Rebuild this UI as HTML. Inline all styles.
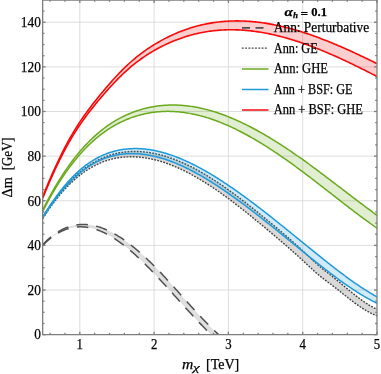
<!DOCTYPE html>
<html><head><meta charset="utf-8"><style>
html,body{margin:0;padding:0;background:#fff;}
body{width:381px;height:374px;position:relative;overflow:hidden;font-family:"Liberation Serif",serif;color:#000;}
svg{display:block;will-change:transform}
</style></head><body>
<svg width="381" height="374" viewBox="0 0 381 374" style="position:absolute;left:0;top:0">
<defs><clipPath id="c"><rect x="42.65" y="0" width="334.35" height="334.65"/></clipPath></defs>
<g stroke="#d4d4d4" stroke-width="0.8"><line x1="79.80" y1="0" x2="79.80" y2="334.65" /><line x1="154.10" y1="0" x2="154.10" y2="334.65" /><line x1="228.40" y1="0" x2="228.40" y2="334.65" /><line x1="302.70" y1="0" x2="302.70" y2="334.65" /><line x1="42.65" y1="290.02" x2="377.00" y2="290.02" /><line x1="42.65" y1="245.39" x2="377.00" y2="245.39" /><line x1="42.65" y1="200.75" x2="377.00" y2="200.75" /><line x1="42.65" y1="156.12" x2="377.00" y2="156.12" /><line x1="42.65" y1="111.49" x2="377.00" y2="111.49" /><line x1="42.65" y1="66.86" x2="377.00" y2="66.86" /><line x1="42.65" y1="22.23" x2="377.00" y2="22.23" /></g>
<g clip-path="url(#c)">
<polygon points="42.65,244.68 43.39,243.91 44.12,243.16 44.86,242.42 45.60,241.70 46.33,240.99 47.07,240.30 47.81,239.63 48.54,238.97 49.28,238.33 50.02,237.70 50.75,237.09 51.49,236.50 52.23,235.92 52.96,235.35 53.70,234.81 54.44,234.27 55.18,233.75 55.91,233.25 56.65,232.76 57.39,232.29 58.12,231.83 58.86,231.39 59.60,230.96 60.33,230.54 61.07,230.14 61.81,229.76 62.54,229.39 63.28,229.03 64.02,228.69 64.75,228.36 65.49,228.04 66.23,227.74 66.96,227.45 67.70,227.18 68.44,226.92 69.17,226.67 69.91,226.44 70.65,226.22 71.38,226.01 72.12,225.82 72.86,225.64 73.59,225.47 74.33,225.31 75.07,225.17 75.81,225.04 76.54,224.92 77.28,224.82 78.02,224.73 78.75,224.65 79.49,224.58 80.23,224.53 80.96,224.48 81.70,224.45 82.44,224.43 83.17,224.43 83.91,224.43 84.65,224.45 85.38,224.47 86.12,224.51 86.86,224.56 87.59,224.63 88.33,224.70 89.07,224.78 89.80,224.88 90.54,224.99 91.28,225.10 92.01,225.23 92.75,225.37 93.49,225.52 94.22,225.68 94.96,225.85 95.70,226.03 96.44,226.22 97.17,226.42 97.91,226.63 98.65,226.85 99.38,227.09 100.12,227.33 100.86,227.58 101.59,227.84 102.33,228.11 103.07,228.39 103.80,228.68 104.54,228.97 105.28,229.28 106.01,229.60 106.75,229.92 107.49,230.26 108.22,230.60 108.96,230.95 109.70,231.31 110.43,231.68 111.17,232.06 111.91,232.45 112.64,232.84 113.38,233.25 114.12,233.66 114.85,234.08 115.59,234.50 116.33,234.94 117.07,235.38 117.80,235.83 118.54,236.29 119.28,236.76 120.01,237.23 120.75,237.71 121.49,238.20 122.22,238.70 122.96,239.20 123.70,239.71 124.43,240.22 125.17,240.75 125.91,241.28 126.64,241.82 127.38,242.36 128.12,242.91 128.85,243.47 129.59,244.03 130.33,244.60 131.06,245.17 131.80,245.75 132.54,246.34 133.27,246.93 134.01,247.53 134.75,248.14 135.48,248.75 136.22,249.37 136.96,249.99 137.69,250.62 138.43,251.25 139.17,251.89 139.91,252.53 140.64,253.18 141.38,253.84 142.12,254.50 142.85,255.16 143.59,255.84 144.33,256.51 145.06,257.19 145.80,257.88 146.54,258.57 147.27,259.27 148.01,259.97 148.75,260.67 149.48,261.38 150.22,262.10 150.96,262.82 151.69,263.55 152.43,264.28 153.17,265.01 153.90,265.75 154.64,266.49 155.38,267.24 156.11,267.99 156.85,268.75 157.59,269.51 158.32,270.27 159.06,271.04 159.80,271.81 160.54,272.58 161.27,273.36 162.01,274.14 162.75,274.93 163.48,275.72 164.22,276.51 164.96,277.30 165.69,278.10 166.43,278.90 167.17,279.70 167.90,280.50 168.64,281.31 169.38,282.11 170.11,282.92 170.85,283.73 171.59,284.55 172.32,285.36 173.06,286.18 173.80,287.00 174.53,287.81 175.27,288.63 176.01,289.46 176.74,290.28 177.48,291.10 178.22,291.92 178.95,292.75 179.69,293.57 180.43,294.40 181.17,295.22 181.90,296.05 182.64,296.87 183.38,297.70 184.11,298.52 184.85,299.34 185.59,300.17 186.32,300.99 187.06,301.81 187.80,302.63 188.53,303.45 189.27,304.27 190.01,305.09 190.74,305.90 191.48,306.72 192.22,307.53 192.95,308.34 193.69,309.15 194.43,309.96 195.16,310.76 195.90,311.57 196.64,312.37 197.37,313.17 198.11,313.96 198.85,314.75 199.58,315.54 200.32,316.33 201.06,317.11 201.80,317.90 202.53,318.67 203.27,319.45 204.01,320.22 204.74,320.98 205.48,321.75 206.22,322.51 206.95,323.26 207.69,324.01 208.43,324.76 209.16,325.50 209.90,326.24 210.64,326.97 211.37,327.70 212.11,328.43 212.85,329.14 213.58,329.86 214.32,330.57 215.06,331.27 215.79,331.97 216.53,332.66 217.27,333.34 218.00,334.02 218.74,334.70 211.31,334.79 210.61,334.10 209.90,333.42 209.19,332.72 208.49,332.03 207.78,331.33 207.08,330.62 206.37,329.91 205.67,329.20 204.96,328.49 204.25,327.77 203.55,327.05 202.84,326.32 202.14,325.59 201.43,324.86 200.73,324.13 200.02,323.39 199.31,322.65 198.61,321.91 197.90,321.17 197.20,320.42 196.49,319.67 195.79,318.92 195.08,318.16 194.37,317.41 193.67,316.65 192.96,315.89 192.26,315.12 191.55,314.36 190.85,313.59 190.14,312.83 189.43,312.06 188.73,311.28 188.02,310.51 187.32,309.74 186.61,308.96 185.91,308.19 185.20,307.41 184.49,306.63 183.79,305.85 183.08,305.07 182.38,304.29 181.67,303.51 180.97,302.73 180.26,301.95 179.55,301.16 178.85,300.38 178.14,299.60 177.44,298.81 176.73,298.03 176.03,297.25 175.32,296.46 174.61,295.68 173.91,294.89 173.20,294.11 172.50,293.33 171.79,292.55 171.09,291.77 170.38,290.99 169.68,290.21 168.97,289.43 168.26,288.65 167.56,287.87 166.85,287.10 166.15,286.32 165.44,285.55 164.74,284.78 164.03,284.00 163.32,283.24 162.62,282.47 161.91,281.70 161.21,280.94 160.50,280.18 159.80,279.42 159.09,278.66 158.38,277.90 157.68,277.15 156.97,276.40 156.27,275.65 155.56,274.90 154.86,274.15 154.15,273.41 153.44,272.67 152.74,271.94 152.03,271.20 151.33,270.47 150.62,269.75 149.92,269.02 149.21,268.30 148.50,267.58 147.80,266.87 147.09,266.16 146.39,265.45 145.68,264.75 144.98,264.05 144.27,263.35 143.56,262.66 142.86,261.97 142.15,261.29 141.45,260.61 140.74,259.93 140.04,259.26 139.33,258.59 138.62,257.93 137.92,257.27 137.21,256.62 136.51,255.97 135.80,255.32 135.10,254.68 134.39,254.05 133.68,253.42 132.98,252.80 132.27,252.18 131.57,251.57 130.86,250.96 130.16,250.35 129.45,249.76 128.74,249.17 128.04,248.58 127.33,248.00 126.63,247.43 125.92,246.86 125.22,246.30 124.51,245.74 123.80,245.19 123.10,244.65 122.39,244.11 121.69,243.58 120.98,243.06 120.28,242.54 119.57,242.03 118.87,241.53 118.16,241.03 117.45,240.54 116.75,240.06 116.04,239.58 115.34,239.12 114.63,238.66 113.93,238.20 113.22,237.76 112.51,237.32 111.81,236.89 111.10,236.47 110.40,236.05 109.69,235.64 108.99,235.24 108.28,234.85 107.57,234.47 106.87,234.10 106.16,233.73 105.46,233.37 104.75,233.02 104.05,232.68 103.34,232.35 102.63,232.03 101.93,231.71 101.22,231.41 100.52,231.11 99.81,230.83 99.11,230.55 98.40,230.28 97.69,230.02 96.99,229.77 96.28,229.53 95.58,229.30 94.87,229.08 94.17,228.87 93.46,228.66 92.75,228.47 92.05,228.29 91.34,228.12 90.64,227.96 89.93,227.81 89.23,227.67 88.52,227.54 87.81,227.42 87.11,227.31 86.40,227.21 85.70,227.12 84.99,227.05 84.29,226.98 83.58,226.93 82.87,226.88 82.17,226.85 81.46,226.83 80.76,226.82 80.05,226.82 79.35,226.84 78.64,226.86 77.93,226.90 77.23,226.95 76.52,227.01 75.82,227.08 75.11,227.17 74.41,227.26 73.70,227.37 72.99,227.49 72.29,227.63 71.58,227.77 70.88,227.93 70.17,228.10 69.47,228.29 68.76,228.48 68.06,228.69 67.35,228.91 66.64,229.15 65.94,229.40 65.23,229.66 64.53,229.94 63.82,230.23 63.12,230.53 62.41,230.84 61.70,231.17 61.00,231.52 60.29,231.87 59.59,232.24 58.88,232.63 58.18,233.03 57.47,233.44 56.76,233.87 56.06,234.31 55.35,234.77 54.65,235.24 53.94,235.72 53.24,236.22 52.53,236.74 51.82,237.27 51.12,237.81 50.41,238.37 49.71,238.95 49.00,239.54 48.30,240.14 47.59,240.76 46.88,241.40 46.18,242.05 45.47,242.71 44.77,243.40 44.06,244.10 43.36,244.81 42.65,245.54" fill="#505050" fill-opacity="0.18" stroke="none"/>
<polyline points="42.65,244.68 43.39,243.91 44.12,243.16 44.86,242.42 45.60,241.70 46.33,240.99 47.07,240.30 47.81,239.63 48.54,238.97 49.28,238.33 50.02,237.70 50.75,237.09 51.49,236.50 52.23,235.92 52.96,235.35 53.70,234.81 54.44,234.27 55.18,233.75 55.91,233.25 56.65,232.76 57.39,232.29 58.12,231.83 58.86,231.39 59.60,230.96 60.33,230.54 61.07,230.14 61.81,229.76 62.54,229.39 63.28,229.03 64.02,228.69 64.75,228.36 65.49,228.04 66.23,227.74 66.96,227.45 67.70,227.18 68.44,226.92 69.17,226.67 69.91,226.44 70.65,226.22 71.38,226.01 72.12,225.82 72.86,225.64 73.59,225.47 74.33,225.31 75.07,225.17 75.81,225.04 76.54,224.92 77.28,224.82 78.02,224.73 78.75,224.65 79.49,224.58 80.23,224.53 80.96,224.48 81.70,224.45 82.44,224.43 83.17,224.43 83.91,224.43 84.65,224.45 85.38,224.47 86.12,224.51 86.86,224.56 87.59,224.63 88.33,224.70 89.07,224.78 89.80,224.88 90.54,224.99 91.28,225.10 92.01,225.23 92.75,225.37 93.49,225.52 94.22,225.68 94.96,225.85 95.70,226.03 96.44,226.22 97.17,226.42 97.91,226.63 98.65,226.85 99.38,227.09 100.12,227.33 100.86,227.58 101.59,227.84 102.33,228.11 103.07,228.39 103.80,228.68 104.54,228.97 105.28,229.28 106.01,229.60 106.75,229.92 107.49,230.26 108.22,230.60 108.96,230.95 109.70,231.31 110.43,231.68 111.17,232.06 111.91,232.45 112.64,232.84 113.38,233.25 114.12,233.66 114.85,234.08 115.59,234.50 116.33,234.94 117.07,235.38 117.80,235.83 118.54,236.29 119.28,236.76 120.01,237.23 120.75,237.71 121.49,238.20 122.22,238.70 122.96,239.20 123.70,239.71 124.43,240.22 125.17,240.75 125.91,241.28 126.64,241.82 127.38,242.36 128.12,242.91 128.85,243.47 129.59,244.03 130.33,244.60 131.06,245.17 131.80,245.75 132.54,246.34 133.27,246.93 134.01,247.53 134.75,248.14 135.48,248.75 136.22,249.37 136.96,249.99 137.69,250.62 138.43,251.25 139.17,251.89 139.91,252.53 140.64,253.18 141.38,253.84 142.12,254.50 142.85,255.16 143.59,255.84 144.33,256.51 145.06,257.19 145.80,257.88 146.54,258.57 147.27,259.27 148.01,259.97 148.75,260.67 149.48,261.38 150.22,262.10 150.96,262.82 151.69,263.55 152.43,264.28 153.17,265.01 153.90,265.75 154.64,266.49 155.38,267.24 156.11,267.99 156.85,268.75 157.59,269.51 158.32,270.27 159.06,271.04 159.80,271.81 160.54,272.58 161.27,273.36 162.01,274.14 162.75,274.93 163.48,275.72 164.22,276.51 164.96,277.30 165.69,278.10 166.43,278.90 167.17,279.70 167.90,280.50 168.64,281.31 169.38,282.11 170.11,282.92 170.85,283.73 171.59,284.55 172.32,285.36 173.06,286.18 173.80,287.00 174.53,287.81 175.27,288.63 176.01,289.46 176.74,290.28 177.48,291.10 178.22,291.92 178.95,292.75 179.69,293.57 180.43,294.40 181.17,295.22 181.90,296.05 182.64,296.87 183.38,297.70 184.11,298.52 184.85,299.34 185.59,300.17 186.32,300.99 187.06,301.81 187.80,302.63 188.53,303.45 189.27,304.27 190.01,305.09 190.74,305.90 191.48,306.72 192.22,307.53 192.95,308.34 193.69,309.15 194.43,309.96 195.16,310.76 195.90,311.57 196.64,312.37 197.37,313.17 198.11,313.96 198.85,314.75 199.58,315.54 200.32,316.33 201.06,317.11 201.80,317.90 202.53,318.67 203.27,319.45 204.01,320.22 204.74,320.98 205.48,321.75 206.22,322.51 206.95,323.26 207.69,324.01 208.43,324.76 209.16,325.50 209.90,326.24 210.64,326.97 211.37,327.70 212.11,328.43 212.85,329.14 213.58,329.86 214.32,330.57 215.06,331.27 215.79,331.97 216.53,332.66 217.27,333.34 218.00,334.02 218.74,334.70" fill="none" stroke="#505050" stroke-width="1.5" stroke-dasharray="11.55 8.36"/>
<polyline points="42.65,245.54 43.36,244.81 44.06,244.10 44.77,243.40 45.47,242.71 46.18,242.05 46.88,241.40 47.59,240.76 48.30,240.14 49.00,239.54 49.71,238.95 50.41,238.37 51.12,237.81 51.82,237.27 52.53,236.74 53.24,236.22 53.94,235.72 54.65,235.24 55.35,234.77 56.06,234.31 56.76,233.87 57.47,233.44 58.18,233.03 58.88,232.63 59.59,232.24 60.29,231.87 61.00,231.52 61.70,231.17 62.41,230.84 63.12,230.53 63.82,230.23 64.53,229.94 65.23,229.66 65.94,229.40 66.64,229.15 67.35,228.91 68.06,228.69 68.76,228.48 69.47,228.29 70.17,228.10 70.88,227.93 71.58,227.77 72.29,227.63 72.99,227.49 73.70,227.37 74.41,227.26 75.11,227.17 75.82,227.08 76.52,227.01 77.23,226.95 77.93,226.90 78.64,226.86 79.35,226.84 80.05,226.82 80.76,226.82 81.46,226.83 82.17,226.85 82.87,226.88 83.58,226.93 84.29,226.98 84.99,227.05 85.70,227.12 86.40,227.21 87.11,227.31 87.81,227.42 88.52,227.54 89.23,227.67 89.93,227.81 90.64,227.96 91.34,228.12 92.05,228.29 92.75,228.47 93.46,228.66 94.17,228.87 94.87,229.08 95.58,229.30 96.28,229.53 96.99,229.77 97.69,230.02 98.40,230.28 99.11,230.55 99.81,230.83 100.52,231.11 101.22,231.41 101.93,231.71 102.63,232.03 103.34,232.35 104.05,232.68 104.75,233.02 105.46,233.37 106.16,233.73 106.87,234.10 107.57,234.47 108.28,234.85 108.99,235.24 109.69,235.64 110.40,236.05 111.10,236.47 111.81,236.89 112.51,237.32 113.22,237.76 113.93,238.20 114.63,238.66 115.34,239.12 116.04,239.58 116.75,240.06 117.45,240.54 118.16,241.03 118.87,241.53 119.57,242.03 120.28,242.54 120.98,243.06 121.69,243.58 122.39,244.11 123.10,244.65 123.80,245.19 124.51,245.74 125.22,246.30 125.92,246.86 126.63,247.43 127.33,248.00 128.04,248.58 128.74,249.17 129.45,249.76 130.16,250.35 130.86,250.96 131.57,251.57 132.27,252.18 132.98,252.80 133.68,253.42 134.39,254.05 135.10,254.68 135.80,255.32 136.51,255.97 137.21,256.62 137.92,257.27 138.62,257.93 139.33,258.59 140.04,259.26 140.74,259.93 141.45,260.61 142.15,261.29 142.86,261.97 143.56,262.66 144.27,263.35 144.98,264.05 145.68,264.75 146.39,265.45 147.09,266.16 147.80,266.87 148.50,267.58 149.21,268.30 149.92,269.02 150.62,269.75 151.33,270.47 152.03,271.20 152.74,271.94 153.44,272.67 154.15,273.41 154.86,274.15 155.56,274.90 156.27,275.65 156.97,276.40 157.68,277.15 158.38,277.90 159.09,278.66 159.80,279.42 160.50,280.18 161.21,280.94 161.91,281.70 162.62,282.47 163.32,283.24 164.03,284.00 164.74,284.78 165.44,285.55 166.15,286.32 166.85,287.10 167.56,287.87 168.26,288.65 168.97,289.43 169.68,290.21 170.38,290.99 171.09,291.77 171.79,292.55 172.50,293.33 173.20,294.11 173.91,294.89 174.61,295.68 175.32,296.46 176.03,297.25 176.73,298.03 177.44,298.81 178.14,299.60 178.85,300.38 179.55,301.16 180.26,301.95 180.97,302.73 181.67,303.51 182.38,304.29 183.08,305.07 183.79,305.85 184.49,306.63 185.20,307.41 185.91,308.19 186.61,308.96 187.32,309.74 188.02,310.51 188.73,311.28 189.43,312.06 190.14,312.83 190.85,313.59 191.55,314.36 192.26,315.12 192.96,315.89 193.67,316.65 194.37,317.41 195.08,318.16 195.79,318.92 196.49,319.67 197.20,320.42 197.90,321.17 198.61,321.91 199.31,322.65 200.02,323.39 200.73,324.13 201.43,324.86 202.14,325.59 202.84,326.32 203.55,327.05 204.25,327.77 204.96,328.49 205.67,329.20 206.37,329.91 207.08,330.62 207.78,331.33 208.49,332.03 209.19,332.72 209.90,333.42 210.61,334.10 211.31,334.79" fill="none" stroke="#505050" stroke-width="1.5" stroke-dasharray="11.55 8.36"/>

<polygon points="42.65,217.47 44.05,215.20 45.45,212.98 46.85,210.80 48.25,208.68 49.64,206.59 51.04,204.56 52.44,202.57 53.84,200.62 55.24,198.72 56.64,196.87 58.04,195.05 59.44,193.28 60.84,191.56 62.24,189.88 63.63,188.23 65.03,186.64 66.43,185.08 67.83,183.56 69.23,182.09 70.63,180.65 72.03,179.26 73.43,177.90 74.83,176.59 76.22,175.31 77.62,174.07 79.02,172.87 80.42,171.71 81.82,170.58 83.22,169.49 84.62,168.44 86.02,167.42 87.42,166.44 88.82,165.50 90.21,164.59 91.61,163.71 93.01,162.87 94.41,162.06 95.81,161.28 97.21,160.54 98.61,159.83 100.01,159.15 101.41,158.50 102.81,157.89 104.20,157.30 105.60,156.75 107.00,156.22 108.40,155.73 109.80,155.26 111.20,154.83 112.60,154.42 114.00,154.04 115.40,153.69 116.79,153.36 118.19,153.06 119.59,152.79 120.99,152.55 122.39,152.33 123.79,152.13 125.19,151.96 126.59,151.82 127.99,151.70 129.39,151.60 130.78,151.53 132.18,151.48 133.58,151.45 134.98,151.44 136.38,151.46 137.78,151.49 139.18,151.55 140.58,151.63 141.98,151.73 143.37,151.85 144.77,151.99 146.17,152.15 147.57,152.33 148.97,152.53 150.37,152.75 151.77,152.99 153.17,153.25 154.57,153.53 155.97,153.83 157.36,154.14 158.76,154.47 160.16,154.82 161.56,155.19 162.96,155.58 164.36,155.98 165.76,156.40 167.16,156.84 168.56,157.30 169.95,157.77 171.35,158.26 172.75,158.76 174.15,159.28 175.55,159.82 176.95,160.37 178.35,160.94 179.75,161.53 181.15,162.12 182.55,162.74 183.94,163.37 185.34,164.01 186.74,164.67 188.14,165.34 189.54,166.02 190.94,166.72 192.34,167.44 193.74,168.16 195.14,168.90 196.53,169.66 197.93,170.42 199.33,171.20 200.73,171.99 202.13,172.79 203.53,173.61 204.93,174.43 206.33,175.27 207.73,176.12 209.13,176.98 210.52,177.85 211.92,178.74 213.32,179.63 214.72,180.53 216.12,181.45 217.52,182.37 218.92,183.30 220.32,184.25 221.72,185.20 223.12,186.16 224.51,187.13 225.91,188.12 227.31,189.10 228.71,190.10 230.11,191.11 231.51,192.12 232.91,193.14 234.31,194.17 235.71,195.21 237.10,196.25 238.50,197.31 239.90,198.36 241.30,199.43 242.70,200.50 244.10,201.58 245.50,202.66 246.90,203.75 248.30,204.85 249.70,205.95 251.09,207.05 252.49,208.16 253.89,209.28 255.29,210.40 256.69,211.52 258.09,212.65 259.49,213.78 260.89,214.91 262.29,216.05 263.68,217.19 265.08,218.34 266.48,219.49 267.88,220.64 269.28,221.79 270.68,222.95 272.08,224.10 273.48,225.26 274.88,226.43 276.28,227.59 277.67,228.76 279.07,229.94 280.47,231.12 281.87,232.30 283.27,233.49 284.67,234.69 286.07,235.89 287.47,237.09 288.87,238.31 290.26,239.53 291.66,240.76 293.06,242.00 294.46,243.24 295.86,244.50 297.26,245.76 298.66,247.03 300.06,248.31 301.46,249.61 302.86,250.91 304.25,252.22 305.65,253.55 307.05,254.87 308.45,256.19 309.85,257.51 311.25,258.83 312.65,260.13 314.05,261.42 315.45,262.69 316.84,263.95 318.24,265.17 319.64,266.37 321.04,267.54 322.44,268.68 323.84,269.79 325.24,270.88 326.64,271.97 328.04,273.05 329.44,274.13 330.83,275.23 332.23,276.34 333.63,277.47 335.03,278.60 336.43,279.75 337.83,280.91 339.23,282.07 340.63,283.23 342.03,284.40 343.43,285.57 344.82,286.74 346.22,287.91 347.62,289.07 349.02,290.23 350.42,291.38 351.82,292.51 353.22,293.64 354.62,294.76 356.02,295.86 357.41,296.94 358.81,298.00 360.21,299.05 361.61,300.07 363.01,301.07 364.41,302.04 365.81,302.99 367.21,303.90 368.61,304.79 370.01,305.64 371.40,306.46 372.80,307.24 374.20,307.99 375.60,308.69 377.00,309.36 377.00,315.86 375.60,315.31 374.20,314.72 372.80,314.09 371.40,313.41 370.01,312.70 368.61,311.95 367.21,311.17 365.81,310.35 364.41,309.50 363.01,308.62 361.61,307.71 360.21,306.78 358.81,305.82 357.41,304.84 356.02,303.84 354.62,302.82 353.22,301.78 351.82,300.73 350.42,299.66 349.02,298.59 347.62,297.50 346.22,296.40 344.82,295.30 343.43,294.19 342.03,293.08 340.63,291.97 339.23,290.86 337.83,289.75 336.43,288.65 335.03,287.55 333.63,286.46 332.23,285.38 330.83,284.31 329.44,283.26 328.04,282.21 326.64,281.17 325.24,280.13 323.84,279.07 322.44,277.99 321.04,276.88 319.64,275.75 318.24,274.57 316.84,273.37 315.45,272.15 314.05,270.90 312.65,269.63 311.25,268.35 309.85,267.05 308.45,265.75 307.05,264.44 305.65,263.13 304.25,261.82 302.86,260.52 301.46,259.23 300.06,257.94 298.66,256.67 297.26,255.40 295.86,254.14 294.46,252.89 293.06,251.65 291.66,250.41 290.26,249.18 288.87,247.96 287.47,246.74 286.07,245.53 284.67,244.33 283.27,243.12 281.87,241.93 280.47,240.73 279.07,239.55 277.67,238.36 276.28,237.18 274.88,236.00 273.48,234.82 272.08,233.65 270.68,232.48 269.28,231.31 267.88,230.14 266.48,228.97 265.08,227.80 263.68,226.63 262.29,225.47 260.89,224.31 259.49,223.15 258.09,222.00 256.69,220.85 255.29,219.70 253.89,218.55 252.49,217.41 251.09,216.27 249.70,215.14 248.30,214.01 246.90,212.89 245.50,211.77 244.10,210.65 242.70,209.54 241.30,208.44 239.90,207.34 238.50,206.25 237.10,205.17 235.71,204.09 234.31,203.01 232.91,201.95 231.51,200.89 230.11,199.84 228.71,198.80 227.31,197.76 225.91,196.73 224.51,195.71 223.12,194.70 221.72,193.70 220.32,192.71 218.92,191.72 217.52,190.75 216.12,189.78 214.72,188.82 213.32,187.88 211.92,186.94 210.52,186.02 209.13,185.10 207.73,184.20 206.33,183.30 204.93,182.42 203.53,181.55 202.13,180.69 200.73,179.84 199.33,179.00 197.93,178.18 196.53,177.36 195.14,176.56 193.74,175.78 192.34,175.00 190.94,174.24 189.54,173.49 188.14,172.76 186.74,172.04 185.34,171.33 183.94,170.64 182.55,169.96 181.15,169.30 179.75,168.65 178.35,168.01 176.95,167.39 175.55,166.79 174.15,166.20 172.75,165.63 171.35,165.07 169.95,164.53 168.56,164.01 167.16,163.50 165.76,163.01 164.36,162.54 162.96,162.08 161.56,161.64 160.16,161.22 158.76,160.82 157.36,160.43 155.97,160.06 154.57,159.71 153.17,159.38 151.77,159.07 150.37,158.77 148.97,158.50 147.57,158.25 146.17,158.01 144.77,157.79 143.37,157.60 141.98,157.42 140.58,157.27 139.18,157.13 137.78,157.02 136.38,156.93 134.98,156.85 133.58,156.80 132.18,156.78 130.78,156.77 129.39,156.79 127.99,156.83 126.59,156.89 125.19,156.98 123.79,157.09 122.39,157.23 120.99,157.39 119.59,157.58 118.19,157.79 116.79,158.03 115.40,158.30 114.00,158.59 112.60,158.92 111.20,159.26 109.80,159.64 108.40,160.05 107.00,160.48 105.60,160.95 104.20,161.44 102.81,161.97 101.41,162.52 100.01,163.11 98.61,163.73 97.21,164.38 95.81,165.06 94.41,165.78 93.01,166.52 91.61,167.30 90.21,168.12 88.82,168.97 87.42,169.85 86.02,170.77 84.62,171.72 83.22,172.71 81.82,173.74 80.42,174.80 79.02,175.90 77.62,177.04 76.22,178.21 74.83,179.42 73.43,180.67 72.03,181.96 70.63,183.29 69.23,184.66 67.83,186.07 66.43,187.52 65.03,189.01 63.63,190.54 62.24,192.11 60.84,193.72 59.44,195.38 58.04,197.08 56.64,198.82 55.24,200.61 53.84,202.44 52.44,204.31 51.04,206.23 49.64,208.19 48.25,210.20 46.85,212.26 45.45,214.36 44.05,216.51 42.65,218.70" fill="#404040" fill-opacity="0.2" stroke="none"/>
<polyline points="42.65,217.47 44.05,215.20 45.45,212.98 46.85,210.80 48.25,208.68 49.64,206.59 51.04,204.56 52.44,202.57 53.84,200.62 55.24,198.72 56.64,196.87 58.04,195.05 59.44,193.28 60.84,191.56 62.24,189.88 63.63,188.23 65.03,186.64 66.43,185.08 67.83,183.56 69.23,182.09 70.63,180.65 72.03,179.26 73.43,177.90 74.83,176.59 76.22,175.31 77.62,174.07 79.02,172.87 80.42,171.71 81.82,170.58 83.22,169.49 84.62,168.44 86.02,167.42 87.42,166.44 88.82,165.50 90.21,164.59 91.61,163.71 93.01,162.87 94.41,162.06 95.81,161.28 97.21,160.54 98.61,159.83 100.01,159.15 101.41,158.50 102.81,157.89 104.20,157.30 105.60,156.75 107.00,156.22 108.40,155.73 109.80,155.26 111.20,154.83 112.60,154.42 114.00,154.04 115.40,153.69 116.79,153.36 118.19,153.06 119.59,152.79 120.99,152.55 122.39,152.33 123.79,152.13 125.19,151.96 126.59,151.82 127.99,151.70 129.39,151.60 130.78,151.53 132.18,151.48 133.58,151.45 134.98,151.44 136.38,151.46 137.78,151.49 139.18,151.55 140.58,151.63 141.98,151.73 143.37,151.85 144.77,151.99 146.17,152.15 147.57,152.33 148.97,152.53 150.37,152.75 151.77,152.99 153.17,153.25 154.57,153.53 155.97,153.83 157.36,154.14 158.76,154.47 160.16,154.82 161.56,155.19 162.96,155.58 164.36,155.98 165.76,156.40 167.16,156.84 168.56,157.30 169.95,157.77 171.35,158.26 172.75,158.76 174.15,159.28 175.55,159.82 176.95,160.37 178.35,160.94 179.75,161.53 181.15,162.12 182.55,162.74 183.94,163.37 185.34,164.01 186.74,164.67 188.14,165.34 189.54,166.02 190.94,166.72 192.34,167.44 193.74,168.16 195.14,168.90 196.53,169.66 197.93,170.42 199.33,171.20 200.73,171.99 202.13,172.79 203.53,173.61 204.93,174.43 206.33,175.27 207.73,176.12 209.13,176.98 210.52,177.85 211.92,178.74 213.32,179.63 214.72,180.53 216.12,181.45 217.52,182.37 218.92,183.30 220.32,184.25 221.72,185.20 223.12,186.16 224.51,187.13 225.91,188.12 227.31,189.10 228.71,190.10 230.11,191.11 231.51,192.12 232.91,193.14 234.31,194.17 235.71,195.21 237.10,196.25 238.50,197.31 239.90,198.36 241.30,199.43 242.70,200.50 244.10,201.58 245.50,202.66 246.90,203.75 248.30,204.85 249.70,205.95 251.09,207.05 252.49,208.16 253.89,209.28 255.29,210.40 256.69,211.52 258.09,212.65 259.49,213.78 260.89,214.91 262.29,216.05 263.68,217.19 265.08,218.34 266.48,219.49 267.88,220.64 269.28,221.79 270.68,222.95 272.08,224.10 273.48,225.26 274.88,226.43 276.28,227.59 277.67,228.76 279.07,229.94 280.47,231.12 281.87,232.30 283.27,233.49 284.67,234.69 286.07,235.89 287.47,237.09 288.87,238.31 290.26,239.53 291.66,240.76 293.06,242.00 294.46,243.24 295.86,244.50 297.26,245.76 298.66,247.03 300.06,248.31 301.46,249.61 302.86,250.91 304.25,252.22 305.65,253.55 307.05,254.87 308.45,256.19 309.85,257.51 311.25,258.83 312.65,260.13 314.05,261.42 315.45,262.69 316.84,263.95 318.24,265.17 319.64,266.37 321.04,267.54 322.44,268.68 323.84,269.79 325.24,270.88 326.64,271.97 328.04,273.05 329.44,274.13 330.83,275.23 332.23,276.34 333.63,277.47 335.03,278.60 336.43,279.75 337.83,280.91 339.23,282.07 340.63,283.23 342.03,284.40 343.43,285.57 344.82,286.74 346.22,287.91 347.62,289.07 349.02,290.23 350.42,291.38 351.82,292.51 353.22,293.64 354.62,294.76 356.02,295.86 357.41,296.94 358.81,298.00 360.21,299.05 361.61,300.07 363.01,301.07 364.41,302.04 365.81,302.99 367.21,303.90 368.61,304.79 370.01,305.64 371.40,306.46 372.80,307.24 374.20,307.99 375.60,308.69 377.00,309.36" fill="none" stroke="#404040" stroke-width="1.4" stroke-dasharray="1.8 1.3"/>
<polyline points="42.65,218.70 44.05,216.51 45.45,214.36 46.85,212.26 48.25,210.20 49.64,208.19 51.04,206.23 52.44,204.31 53.84,202.44 55.24,200.61 56.64,198.82 58.04,197.08 59.44,195.38 60.84,193.72 62.24,192.11 63.63,190.54 65.03,189.01 66.43,187.52 67.83,186.07 69.23,184.66 70.63,183.29 72.03,181.96 73.43,180.67 74.83,179.42 76.22,178.21 77.62,177.04 79.02,175.90 80.42,174.80 81.82,173.74 83.22,172.71 84.62,171.72 86.02,170.77 87.42,169.85 88.82,168.97 90.21,168.12 91.61,167.30 93.01,166.52 94.41,165.78 95.81,165.06 97.21,164.38 98.61,163.73 100.01,163.11 101.41,162.52 102.81,161.97 104.20,161.44 105.60,160.95 107.00,160.48 108.40,160.05 109.80,159.64 111.20,159.26 112.60,158.92 114.00,158.59 115.40,158.30 116.79,158.03 118.19,157.79 119.59,157.58 120.99,157.39 122.39,157.23 123.79,157.09 125.19,156.98 126.59,156.89 127.99,156.83 129.39,156.79 130.78,156.77 132.18,156.78 133.58,156.80 134.98,156.85 136.38,156.93 137.78,157.02 139.18,157.13 140.58,157.27 141.98,157.42 143.37,157.60 144.77,157.79 146.17,158.01 147.57,158.25 148.97,158.50 150.37,158.77 151.77,159.07 153.17,159.38 154.57,159.71 155.97,160.06 157.36,160.43 158.76,160.82 160.16,161.22 161.56,161.64 162.96,162.08 164.36,162.54 165.76,163.01 167.16,163.50 168.56,164.01 169.95,164.53 171.35,165.07 172.75,165.63 174.15,166.20 175.55,166.79 176.95,167.39 178.35,168.01 179.75,168.65 181.15,169.30 182.55,169.96 183.94,170.64 185.34,171.33 186.74,172.04 188.14,172.76 189.54,173.49 190.94,174.24 192.34,175.00 193.74,175.78 195.14,176.56 196.53,177.36 197.93,178.18 199.33,179.00 200.73,179.84 202.13,180.69 203.53,181.55 204.93,182.42 206.33,183.30 207.73,184.20 209.13,185.10 210.52,186.02 211.92,186.94 213.32,187.88 214.72,188.82 216.12,189.78 217.52,190.75 218.92,191.72 220.32,192.71 221.72,193.70 223.12,194.70 224.51,195.71 225.91,196.73 227.31,197.76 228.71,198.80 230.11,199.84 231.51,200.89 232.91,201.95 234.31,203.01 235.71,204.09 237.10,205.17 238.50,206.25 239.90,207.34 241.30,208.44 242.70,209.54 244.10,210.65 245.50,211.77 246.90,212.89 248.30,214.01 249.70,215.14 251.09,216.27 252.49,217.41 253.89,218.55 255.29,219.70 256.69,220.85 258.09,222.00 259.49,223.15 260.89,224.31 262.29,225.47 263.68,226.63 265.08,227.80 266.48,228.97 267.88,230.14 269.28,231.31 270.68,232.48 272.08,233.65 273.48,234.82 274.88,236.00 276.28,237.18 277.67,238.36 279.07,239.55 280.47,240.73 281.87,241.93 283.27,243.12 284.67,244.33 286.07,245.53 287.47,246.74 288.87,247.96 290.26,249.18 291.66,250.41 293.06,251.65 294.46,252.89 295.86,254.14 297.26,255.40 298.66,256.67 300.06,257.94 301.46,259.23 302.86,260.52 304.25,261.82 305.65,263.13 307.05,264.44 308.45,265.75 309.85,267.05 311.25,268.35 312.65,269.63 314.05,270.90 315.45,272.15 316.84,273.37 318.24,274.57 319.64,275.75 321.04,276.88 322.44,277.99 323.84,279.07 325.24,280.13 326.64,281.17 328.04,282.21 329.44,283.26 330.83,284.31 332.23,285.38 333.63,286.46 335.03,287.55 336.43,288.65 337.83,289.75 339.23,290.86 340.63,291.97 342.03,293.08 343.43,294.19 344.82,295.30 346.22,296.40 347.62,297.50 349.02,298.59 350.42,299.66 351.82,300.73 353.22,301.78 354.62,302.82 356.02,303.84 357.41,304.84 358.81,305.82 360.21,306.78 361.61,307.71 363.01,308.62 364.41,309.50 365.81,310.35 367.21,311.17 368.61,311.95 370.01,312.70 371.40,313.41 372.80,314.09 374.20,314.72 375.60,315.31 377.00,315.86" fill="none" stroke="#404040" stroke-width="1.4" stroke-dasharray="1.8 1.3"/>

<polygon points="42.65,210.04 44.05,207.25 45.45,204.51 46.85,201.83 48.25,199.19 49.64,196.59 51.04,194.05 52.44,191.55 53.84,189.10 55.24,186.70 56.64,184.34 58.04,182.03 59.44,179.76 60.84,177.54 62.24,175.36 63.63,173.23 65.03,171.13 66.43,169.08 67.83,167.08 69.23,165.11 70.63,163.19 72.03,161.31 73.43,159.46 74.83,157.66 76.22,155.90 77.62,154.17 79.02,152.49 80.42,150.84 81.82,149.23 83.22,147.66 84.62,146.12 86.02,144.62 87.42,143.16 88.82,141.73 90.21,140.34 91.61,138.98 93.01,137.66 94.41,136.37 95.81,135.11 97.21,133.88 98.61,132.69 100.01,131.53 101.41,130.40 102.81,129.30 104.20,128.23 105.60,127.19 107.00,126.19 108.40,125.21 109.80,124.26 111.20,123.33 112.60,122.44 114.00,121.57 115.40,120.73 116.79,119.91 118.19,119.13 119.59,118.36 120.99,117.62 122.39,116.91 123.79,116.22 125.19,115.55 126.59,114.91 127.99,114.29 129.39,113.69 130.78,113.12 132.18,112.56 133.58,112.03 134.98,111.52 136.38,111.03 137.78,110.56 139.18,110.10 140.58,109.67 141.98,109.26 143.37,108.87 144.77,108.50 146.17,108.15 147.57,107.82 148.97,107.51 150.37,107.21 151.77,106.94 153.17,106.68 154.57,106.45 155.97,106.23 157.36,106.03 158.76,105.85 160.16,105.68 161.56,105.54 162.96,105.41 164.36,105.30 165.76,105.21 167.16,105.14 168.56,105.08 169.95,105.04 171.35,105.01 172.75,105.01 174.15,105.02 175.55,105.04 176.95,105.08 178.35,105.14 179.75,105.22 181.15,105.31 182.55,105.41 183.94,105.53 185.34,105.67 186.74,105.82 188.14,105.99 189.54,106.17 190.94,106.37 192.34,106.58 193.74,106.81 195.14,107.05 196.53,107.31 197.93,107.58 199.33,107.86 200.73,108.16 202.13,108.48 203.53,108.80 204.93,109.14 206.33,109.50 207.73,109.86 209.13,110.24 210.52,110.64 211.92,111.05 213.32,111.47 214.72,111.90 216.12,112.34 217.52,112.80 218.92,113.27 220.32,113.76 221.72,114.25 223.12,114.76 224.51,115.28 225.91,115.81 227.31,116.35 228.71,116.91 230.11,117.47 231.51,118.05 232.91,118.64 234.31,119.24 235.71,119.85 237.10,120.47 238.50,121.10 239.90,121.75 241.30,122.40 242.70,123.06 244.10,123.74 245.50,124.42 246.90,125.12 248.30,125.82 249.70,126.54 251.09,127.26 252.49,127.99 253.89,128.73 255.29,129.49 256.69,130.25 258.09,131.02 259.49,131.80 260.89,132.58 262.29,133.38 263.68,134.18 265.08,135.00 266.48,135.82 267.88,136.65 269.28,137.49 270.68,138.33 272.08,139.19 273.48,140.05 274.88,140.92 276.28,141.79 277.67,142.68 279.07,143.57 280.47,144.47 281.87,145.37 283.27,146.29 284.67,147.20 286.07,148.13 287.47,149.06 288.87,150.00 290.26,150.94 291.66,151.90 293.06,152.85 294.46,153.82 295.86,154.78 297.26,155.76 298.66,156.74 300.06,157.72 301.46,158.71 302.86,159.71 304.25,160.71 305.65,161.72 307.05,162.73 308.45,163.74 309.85,164.76 311.25,165.79 312.65,166.82 314.05,167.85 315.45,168.88 316.84,169.92 318.24,170.96 319.64,172.01 321.04,173.06 322.44,174.11 323.84,175.16 325.24,176.22 326.64,177.28 328.04,178.34 329.44,179.40 330.83,180.46 332.23,181.53 333.63,182.59 335.03,183.66 336.43,184.73 337.83,185.80 339.23,186.87 340.63,187.94 342.03,189.01 343.43,190.08 344.82,191.15 346.22,192.22 347.62,193.29 349.02,194.36 350.42,195.42 351.82,196.49 353.22,197.56 354.62,198.62 356.02,199.68 357.41,200.74 358.81,201.80 360.21,202.86 361.61,203.91 363.01,204.97 364.41,206.02 365.81,207.06 367.21,208.11 368.61,209.15 370.01,210.18 371.40,211.22 372.80,212.25 374.20,213.27 375.60,214.30 377.00,215.31 377.00,228.24 375.60,227.25 374.20,226.26 372.80,225.26 371.40,224.26 370.01,223.25 368.61,222.23 367.21,221.21 365.81,220.19 364.41,219.16 363.01,218.12 361.61,217.08 360.21,216.03 358.81,214.98 357.41,213.93 356.02,212.87 354.62,211.81 353.22,210.75 351.82,209.68 350.42,208.61 349.02,207.53 347.62,206.46 346.22,205.38 344.82,204.30 343.43,203.22 342.03,202.13 340.63,201.05 339.23,199.96 337.83,198.87 336.43,197.79 335.03,196.70 333.63,195.61 332.23,194.52 330.83,193.43 329.44,192.33 328.04,191.25 326.64,190.16 325.24,189.07 323.84,187.98 322.44,186.89 321.04,185.81 319.64,184.73 318.24,183.64 316.84,182.56 315.45,181.49 314.05,180.41 312.65,179.34 311.25,178.27 309.85,177.20 308.45,176.14 307.05,175.08 305.65,174.03 304.25,172.97 302.86,171.92 301.46,170.88 300.06,169.84 298.66,168.81 297.26,167.78 295.86,166.75 294.46,165.73 293.06,164.72 291.66,163.71 290.26,162.70 288.87,161.70 287.47,160.71 286.07,159.72 284.67,158.74 283.27,157.76 281.87,156.79 280.47,155.83 279.07,154.87 277.67,153.92 276.28,152.98 274.88,152.04 273.48,151.11 272.08,150.19 270.68,149.28 269.28,148.37 267.88,147.47 266.48,146.58 265.08,145.69 263.68,144.82 262.29,143.95 260.89,143.09 259.49,142.24 258.09,141.40 256.69,140.56 255.29,139.74 253.89,138.92 252.49,138.11 251.09,137.32 249.70,136.53 248.30,135.75 246.90,134.98 245.50,134.22 244.10,133.47 242.70,132.73 241.30,132.00 239.90,131.28 238.50,130.57 237.10,129.87 235.71,129.18 234.31,128.51 232.91,127.84 231.51,127.19 230.11,126.54 228.71,125.91 227.31,125.29 225.91,124.68 224.51,124.08 223.12,123.50 221.72,122.93 220.32,122.36 218.92,121.82 217.52,121.28 216.12,120.75 214.72,120.24 213.32,119.75 211.92,119.26 210.52,118.79 209.13,118.33 207.73,117.88 206.33,117.45 204.93,117.03 203.53,116.63 202.13,116.24 200.73,115.86 199.33,115.50 197.93,115.15 196.53,114.82 195.14,114.50 193.74,114.19 192.34,113.90 190.94,113.63 189.54,113.37 188.14,113.12 186.74,112.89 185.34,112.68 183.94,112.48 182.55,112.30 181.15,112.13 179.75,111.98 178.35,111.85 176.95,111.73 175.55,111.63 174.15,111.54 172.75,111.47 171.35,111.42 169.95,111.38 168.56,111.37 167.16,111.36 165.76,111.38 164.36,111.42 162.96,111.47 161.56,111.54 160.16,111.63 158.76,111.73 157.36,111.86 155.97,112.00 154.57,112.16 153.17,112.34 151.77,112.54 150.37,112.76 148.97,113.00 147.57,113.26 146.17,113.53 144.77,113.83 143.37,114.15 141.98,114.48 140.58,114.84 139.18,115.22 137.78,115.61 136.38,116.03 134.98,116.47 133.58,116.93 132.18,117.41 130.78,117.91 129.39,118.44 127.99,118.98 126.59,119.55 125.19,120.14 123.79,120.76 122.39,121.39 120.99,122.06 119.59,122.74 118.19,123.46 116.79,124.19 115.40,124.96 114.00,125.75 112.60,126.57 111.20,127.41 109.80,128.28 108.40,129.18 107.00,130.11 105.60,131.07 104.20,132.06 102.81,133.08 101.41,134.13 100.01,135.21 98.61,136.32 97.21,137.46 95.81,138.63 94.41,139.84 93.01,141.08 91.61,142.36 90.21,143.67 88.82,145.01 87.42,146.39 86.02,147.80 84.62,149.25 83.22,150.73 81.82,152.25 80.42,153.81 79.02,155.41 77.62,157.04 76.22,158.71 74.83,160.43 73.43,162.18 72.03,163.97 70.63,165.80 69.23,167.67 67.83,169.58 66.43,171.53 65.03,173.53 63.63,175.57 62.24,177.65 60.84,179.77 59.44,181.94 58.04,184.15 56.64,186.41 55.24,188.71 53.84,191.05 52.44,193.45 51.04,195.88 49.64,198.37 48.25,200.90 46.85,203.48 45.45,206.11 44.05,208.79 42.65,211.51" fill="#6aaa1e" fill-opacity="0.2" stroke="none"/>
<polyline points="42.65,210.04 44.05,207.25 45.45,204.51 46.85,201.83 48.25,199.19 49.64,196.59 51.04,194.05 52.44,191.55 53.84,189.10 55.24,186.70 56.64,184.34 58.04,182.03 59.44,179.76 60.84,177.54 62.24,175.36 63.63,173.23 65.03,171.13 66.43,169.08 67.83,167.08 69.23,165.11 70.63,163.19 72.03,161.31 73.43,159.46 74.83,157.66 76.22,155.90 77.62,154.17 79.02,152.49 80.42,150.84 81.82,149.23 83.22,147.66 84.62,146.12 86.02,144.62 87.42,143.16 88.82,141.73 90.21,140.34 91.61,138.98 93.01,137.66 94.41,136.37 95.81,135.11 97.21,133.88 98.61,132.69 100.01,131.53 101.41,130.40 102.81,129.30 104.20,128.23 105.60,127.19 107.00,126.19 108.40,125.21 109.80,124.26 111.20,123.33 112.60,122.44 114.00,121.57 115.40,120.73 116.79,119.91 118.19,119.13 119.59,118.36 120.99,117.62 122.39,116.91 123.79,116.22 125.19,115.55 126.59,114.91 127.99,114.29 129.39,113.69 130.78,113.12 132.18,112.56 133.58,112.03 134.98,111.52 136.38,111.03 137.78,110.56 139.18,110.10 140.58,109.67 141.98,109.26 143.37,108.87 144.77,108.50 146.17,108.15 147.57,107.82 148.97,107.51 150.37,107.21 151.77,106.94 153.17,106.68 154.57,106.45 155.97,106.23 157.36,106.03 158.76,105.85 160.16,105.68 161.56,105.54 162.96,105.41 164.36,105.30 165.76,105.21 167.16,105.14 168.56,105.08 169.95,105.04 171.35,105.01 172.75,105.01 174.15,105.02 175.55,105.04 176.95,105.08 178.35,105.14 179.75,105.22 181.15,105.31 182.55,105.41 183.94,105.53 185.34,105.67 186.74,105.82 188.14,105.99 189.54,106.17 190.94,106.37 192.34,106.58 193.74,106.81 195.14,107.05 196.53,107.31 197.93,107.58 199.33,107.86 200.73,108.16 202.13,108.48 203.53,108.80 204.93,109.14 206.33,109.50 207.73,109.86 209.13,110.24 210.52,110.64 211.92,111.05 213.32,111.47 214.72,111.90 216.12,112.34 217.52,112.80 218.92,113.27 220.32,113.76 221.72,114.25 223.12,114.76 224.51,115.28 225.91,115.81 227.31,116.35 228.71,116.91 230.11,117.47 231.51,118.05 232.91,118.64 234.31,119.24 235.71,119.85 237.10,120.47 238.50,121.10 239.90,121.75 241.30,122.40 242.70,123.06 244.10,123.74 245.50,124.42 246.90,125.12 248.30,125.82 249.70,126.54 251.09,127.26 252.49,127.99 253.89,128.73 255.29,129.49 256.69,130.25 258.09,131.02 259.49,131.80 260.89,132.58 262.29,133.38 263.68,134.18 265.08,135.00 266.48,135.82 267.88,136.65 269.28,137.49 270.68,138.33 272.08,139.19 273.48,140.05 274.88,140.92 276.28,141.79 277.67,142.68 279.07,143.57 280.47,144.47 281.87,145.37 283.27,146.29 284.67,147.20 286.07,148.13 287.47,149.06 288.87,150.00 290.26,150.94 291.66,151.90 293.06,152.85 294.46,153.82 295.86,154.78 297.26,155.76 298.66,156.74 300.06,157.72 301.46,158.71 302.86,159.71 304.25,160.71 305.65,161.72 307.05,162.73 308.45,163.74 309.85,164.76 311.25,165.79 312.65,166.82 314.05,167.85 315.45,168.88 316.84,169.92 318.24,170.96 319.64,172.01 321.04,173.06 322.44,174.11 323.84,175.16 325.24,176.22 326.64,177.28 328.04,178.34 329.44,179.40 330.83,180.46 332.23,181.53 333.63,182.59 335.03,183.66 336.43,184.73 337.83,185.80 339.23,186.87 340.63,187.94 342.03,189.01 343.43,190.08 344.82,191.15 346.22,192.22 347.62,193.29 349.02,194.36 350.42,195.42 351.82,196.49 353.22,197.56 354.62,198.62 356.02,199.68 357.41,200.74 358.81,201.80 360.21,202.86 361.61,203.91 363.01,204.97 364.41,206.02 365.81,207.06 367.21,208.11 368.61,209.15 370.01,210.18 371.40,211.22 372.80,212.25 374.20,213.27 375.60,214.30 377.00,215.31" fill="none" stroke="#6aaa1e" stroke-width="1.5"/>
<polyline points="42.65,211.51 44.05,208.79 45.45,206.11 46.85,203.48 48.25,200.90 49.64,198.37 51.04,195.88 52.44,193.45 53.84,191.05 55.24,188.71 56.64,186.41 58.04,184.15 59.44,181.94 60.84,179.77 62.24,177.65 63.63,175.57 65.03,173.53 66.43,171.53 67.83,169.58 69.23,167.67 70.63,165.80 72.03,163.97 73.43,162.18 74.83,160.43 76.22,158.71 77.62,157.04 79.02,155.41 80.42,153.81 81.82,152.25 83.22,150.73 84.62,149.25 86.02,147.80 87.42,146.39 88.82,145.01 90.21,143.67 91.61,142.36 93.01,141.08 94.41,139.84 95.81,138.63 97.21,137.46 98.61,136.32 100.01,135.21 101.41,134.13 102.81,133.08 104.20,132.06 105.60,131.07 107.00,130.11 108.40,129.18 109.80,128.28 111.20,127.41 112.60,126.57 114.00,125.75 115.40,124.96 116.79,124.19 118.19,123.46 119.59,122.74 120.99,122.06 122.39,121.39 123.79,120.76 125.19,120.14 126.59,119.55 127.99,118.98 129.39,118.44 130.78,117.91 132.18,117.41 133.58,116.93 134.98,116.47 136.38,116.03 137.78,115.61 139.18,115.22 140.58,114.84 141.98,114.48 143.37,114.15 144.77,113.83 146.17,113.53 147.57,113.26 148.97,113.00 150.37,112.76 151.77,112.54 153.17,112.34 154.57,112.16 155.97,112.00 157.36,111.86 158.76,111.73 160.16,111.63 161.56,111.54 162.96,111.47 164.36,111.42 165.76,111.38 167.16,111.36 168.56,111.37 169.95,111.38 171.35,111.42 172.75,111.47 174.15,111.54 175.55,111.63 176.95,111.73 178.35,111.85 179.75,111.98 181.15,112.13 182.55,112.30 183.94,112.48 185.34,112.68 186.74,112.89 188.14,113.12 189.54,113.37 190.94,113.63 192.34,113.90 193.74,114.19 195.14,114.50 196.53,114.82 197.93,115.15 199.33,115.50 200.73,115.86 202.13,116.24 203.53,116.63 204.93,117.03 206.33,117.45 207.73,117.88 209.13,118.33 210.52,118.79 211.92,119.26 213.32,119.75 214.72,120.24 216.12,120.75 217.52,121.28 218.92,121.82 220.32,122.36 221.72,122.93 223.12,123.50 224.51,124.08 225.91,124.68 227.31,125.29 228.71,125.91 230.11,126.54 231.51,127.19 232.91,127.84 234.31,128.51 235.71,129.18 237.10,129.87 238.50,130.57 239.90,131.28 241.30,132.00 242.70,132.73 244.10,133.47 245.50,134.22 246.90,134.98 248.30,135.75 249.70,136.53 251.09,137.32 252.49,138.11 253.89,138.92 255.29,139.74 256.69,140.56 258.09,141.40 259.49,142.24 260.89,143.09 262.29,143.95 263.68,144.82 265.08,145.69 266.48,146.58 267.88,147.47 269.28,148.37 270.68,149.28 272.08,150.19 273.48,151.11 274.88,152.04 276.28,152.98 277.67,153.92 279.07,154.87 280.47,155.83 281.87,156.79 283.27,157.76 284.67,158.74 286.07,159.72 287.47,160.71 288.87,161.70 290.26,162.70 291.66,163.71 293.06,164.72 294.46,165.73 295.86,166.75 297.26,167.78 298.66,168.81 300.06,169.84 301.46,170.88 302.86,171.92 304.25,172.97 305.65,174.03 307.05,175.08 308.45,176.14 309.85,177.20 311.25,178.27 312.65,179.34 314.05,180.41 315.45,181.49 316.84,182.56 318.24,183.64 319.64,184.73 321.04,185.81 322.44,186.89 323.84,187.98 325.24,189.07 326.64,190.16 328.04,191.25 329.44,192.33 330.83,193.43 332.23,194.52 333.63,195.61 335.03,196.70 336.43,197.79 337.83,198.87 339.23,199.96 340.63,201.05 342.03,202.13 343.43,203.22 344.82,204.30 346.22,205.38 347.62,206.46 349.02,207.53 350.42,208.61 351.82,209.68 353.22,210.75 354.62,211.81 356.02,212.87 357.41,213.93 358.81,214.98 360.21,216.03 361.61,217.08 363.01,218.12 364.41,219.16 365.81,220.19 367.21,221.21 368.61,222.23 370.01,223.25 371.40,224.26 372.80,225.26 374.20,226.26 375.60,227.25 377.00,228.24" fill="none" stroke="#6aaa1e" stroke-width="1.5"/>

<polygon points="42.65,216.91 44.05,214.66 45.45,212.44 46.85,210.26 48.25,208.11 49.64,206.00 51.04,203.92 52.44,201.88 53.84,199.88 55.24,197.92 56.64,196.00 58.04,194.11 59.44,192.27 60.84,190.47 62.24,188.70 63.63,186.98 65.03,185.30 66.43,183.67 67.83,182.07 69.23,180.52 70.63,179.01 72.03,177.55 73.43,176.12 74.83,174.74 76.22,173.39 77.62,172.09 79.02,170.83 80.42,169.61 81.82,168.44 83.22,167.30 84.62,166.20 86.02,165.14 87.42,164.12 88.82,163.14 90.21,162.19 91.61,161.28 93.01,160.41 94.41,159.57 95.81,158.77 97.21,158.01 98.61,157.27 100.01,156.58 101.41,155.91 102.81,155.28 104.20,154.68 105.60,154.11 107.00,153.57 108.40,153.06 109.80,152.58 111.20,152.13 112.60,151.71 114.00,151.32 115.40,150.96 116.79,150.62 118.19,150.31 119.59,150.03 120.99,149.78 122.39,149.55 123.79,149.34 125.19,149.16 126.59,149.01 127.99,148.88 129.39,148.77 130.78,148.69 132.18,148.63 133.58,148.60 134.98,148.58 136.38,148.59 137.78,148.62 139.18,148.67 140.58,148.74 141.98,148.83 143.37,148.95 144.77,149.08 146.17,149.23 147.57,149.40 148.97,149.60 150.37,149.81 151.77,150.04 153.17,150.29 154.57,150.56 155.97,150.84 157.36,151.15 158.76,151.47 160.16,151.81 161.56,152.17 162.96,152.54 164.36,152.94 165.76,153.34 167.16,153.77 168.56,154.21 169.95,154.67 171.35,155.14 172.75,155.63 174.15,156.14 175.55,156.66 176.95,157.20 178.35,157.75 179.75,158.31 181.15,158.89 182.55,159.48 183.94,160.09 185.34,160.71 186.74,161.34 188.14,161.99 189.54,162.65 190.94,163.32 192.34,164.01 193.74,164.71 195.14,165.42 196.53,166.14 197.93,166.87 199.33,167.62 200.73,168.37 202.13,169.14 203.53,169.92 204.93,170.71 206.33,171.50 207.73,172.31 209.13,173.13 210.52,173.96 211.92,174.80 213.32,175.65 214.72,176.51 216.12,177.37 217.52,178.25 218.92,179.13 220.32,180.03 221.72,180.93 223.12,181.84 224.51,182.76 225.91,183.69 227.31,184.62 228.71,185.56 230.11,186.51 231.51,187.47 232.91,188.43 234.31,189.40 235.71,190.38 237.10,191.37 238.50,192.36 239.90,193.36 241.30,194.36 242.70,195.37 244.10,196.39 245.50,197.41 246.90,198.44 248.30,199.48 249.70,200.51 251.09,201.56 252.49,202.61 253.89,203.66 255.29,204.72 256.69,205.79 258.09,206.86 259.49,207.93 260.89,209.01 262.29,210.09 263.68,211.18 265.08,212.27 266.48,213.36 267.88,214.46 269.28,215.56 270.68,216.66 272.08,217.77 273.48,218.88 274.88,219.99 276.28,221.11 277.67,222.22 279.07,223.34 280.47,224.47 281.87,225.59 283.27,226.72 284.67,227.85 286.07,228.98 287.47,230.11 288.87,231.24 290.26,232.37 291.66,233.51 293.06,234.64 294.46,235.78 295.86,236.92 297.26,238.06 298.66,239.20 300.06,240.33 301.46,241.47 302.86,242.61 304.25,243.75 305.65,244.89 307.05,246.02 308.45,247.16 309.85,248.30 311.25,249.43 312.65,250.56 314.05,251.70 315.45,252.83 316.84,253.95 318.24,255.08 319.64,256.20 321.04,257.32 322.44,258.44 323.84,259.56 325.24,260.67 326.64,261.78 328.04,262.88 329.44,263.98 330.83,265.08 332.23,266.17 333.63,267.26 335.03,268.34 336.43,269.42 337.83,270.49 339.23,271.56 340.63,272.62 342.03,273.67 343.43,274.71 344.82,275.75 346.22,276.78 347.62,277.81 349.02,278.82 350.42,279.83 351.82,280.82 353.22,281.81 354.62,282.79 356.02,283.76 357.41,284.72 358.81,285.66 360.21,286.60 361.61,287.52 363.01,288.44 364.41,289.34 365.81,290.23 367.21,291.11 368.61,291.97 370.01,292.82 371.40,293.66 372.80,294.48 374.20,295.29 375.60,296.09 377.00,296.87 377.00,303.31 375.60,302.63 374.20,301.92 372.80,301.20 371.40,300.46 370.01,299.71 368.61,298.94 367.21,298.16 365.81,297.36 364.41,296.54 363.01,295.72 361.61,294.87 360.21,294.02 358.81,293.15 357.41,292.27 356.02,291.38 354.62,290.47 353.22,289.55 351.82,288.62 350.42,287.68 349.02,286.73 347.62,285.77 346.22,284.80 344.82,283.82 343.43,282.83 342.03,281.83 340.63,280.82 339.23,279.80 337.83,278.78 336.43,277.75 335.03,276.71 333.63,275.66 332.23,274.61 330.83,273.55 329.44,272.48 328.04,271.41 326.64,270.34 325.24,269.25 323.84,268.17 322.44,267.08 321.04,265.98 319.64,264.88 318.24,263.78 316.84,262.68 315.45,261.57 314.05,260.45 312.65,259.34 311.25,258.22 309.85,257.10 308.45,255.97 307.05,254.85 305.65,253.72 304.25,252.59 302.86,251.46 301.46,250.33 300.06,249.19 298.66,248.06 297.26,246.92 295.86,245.79 294.46,244.65 293.06,243.51 291.66,242.37 290.26,241.24 288.87,240.10 287.47,238.96 286.07,237.83 284.67,236.69 283.27,235.56 281.87,234.42 280.47,233.29 279.07,232.16 277.67,231.02 276.28,229.90 274.88,228.77 273.48,227.64 272.08,226.52 270.68,225.40 269.28,224.28 267.88,223.16 266.48,222.05 265.08,220.94 263.68,219.83 262.29,218.73 260.89,217.62 259.49,216.53 258.09,215.43 256.69,214.34 255.29,213.25 253.89,212.17 252.49,211.09 251.09,210.02 249.70,208.95 248.30,207.89 246.90,206.83 245.50,205.77 244.10,204.72 242.70,203.68 241.30,202.64 239.90,201.61 238.50,200.58 237.10,199.56 235.71,198.54 234.31,197.53 232.91,196.53 231.51,195.54 230.11,194.55 228.71,193.56 227.31,192.59 225.91,191.62 224.51,190.66 223.12,189.71 221.72,188.76 220.32,187.83 218.92,186.90 217.52,185.98 216.12,185.07 214.72,184.16 213.32,183.27 211.92,182.38 210.52,181.51 209.13,180.64 207.73,179.78 206.33,178.94 204.93,178.10 203.53,177.27 202.13,176.46 200.73,175.65 199.33,174.85 197.93,174.07 196.53,173.29 195.14,172.53 193.74,171.78 192.34,171.04 190.94,170.32 189.54,169.60 188.14,168.90 186.74,168.21 185.34,167.53 183.94,166.87 182.55,166.22 181.15,165.58 179.75,164.96 178.35,164.35 176.95,163.76 175.55,163.18 174.15,162.61 172.75,162.06 171.35,161.53 169.95,161.01 168.56,160.50 167.16,160.02 165.76,159.54 164.36,159.09 162.96,158.65 161.56,158.23 160.16,157.82 158.76,157.44 157.36,157.07 155.97,156.71 154.57,156.38 153.17,156.06 151.77,155.76 150.37,155.49 148.97,155.23 147.57,154.98 146.17,154.76 144.77,154.56 143.37,154.38 141.98,154.22 140.58,154.07 139.18,153.95 137.78,153.85 136.38,153.77 134.98,153.71 133.58,153.67 132.18,153.66 130.78,153.67 129.39,153.70 127.99,153.75 126.59,153.83 125.19,153.93 123.79,154.05 122.39,154.20 120.99,154.38 119.59,154.58 118.19,154.81 116.79,155.06 115.40,155.34 114.00,155.65 112.60,155.99 111.20,156.35 109.80,156.74 108.40,157.17 107.00,157.62 105.60,158.10 104.20,158.61 102.81,159.15 101.41,159.73 100.01,160.33 98.61,160.97 97.21,161.65 95.81,162.35 94.41,163.09 93.01,163.87 91.61,164.68 90.21,165.53 88.82,166.41 87.42,167.33 86.02,168.29 84.62,169.29 83.22,170.32 81.82,171.40 80.42,172.51 79.02,173.66 77.62,174.86 76.22,176.09 74.83,177.37 73.43,178.69 72.03,180.04 70.63,181.44 69.23,182.88 67.83,184.37 66.43,185.89 65.03,187.46 63.63,189.06 62.24,190.71 60.84,192.40 59.44,194.13 58.04,195.90 56.64,197.71 55.24,199.56 53.84,201.45 52.44,203.37 51.04,205.33 49.64,207.33 48.25,209.36 46.85,211.43 45.45,213.53 44.05,215.67 42.65,217.84" fill="#1f9ad8" fill-opacity="0.2" stroke="none"/>
<polyline points="42.65,216.91 44.05,214.66 45.45,212.44 46.85,210.26 48.25,208.11 49.64,206.00 51.04,203.92 52.44,201.88 53.84,199.88 55.24,197.92 56.64,196.00 58.04,194.11 59.44,192.27 60.84,190.47 62.24,188.70 63.63,186.98 65.03,185.30 66.43,183.67 67.83,182.07 69.23,180.52 70.63,179.01 72.03,177.55 73.43,176.12 74.83,174.74 76.22,173.39 77.62,172.09 79.02,170.83 80.42,169.61 81.82,168.44 83.22,167.30 84.62,166.20 86.02,165.14 87.42,164.12 88.82,163.14 90.21,162.19 91.61,161.28 93.01,160.41 94.41,159.57 95.81,158.77 97.21,158.01 98.61,157.27 100.01,156.58 101.41,155.91 102.81,155.28 104.20,154.68 105.60,154.11 107.00,153.57 108.40,153.06 109.80,152.58 111.20,152.13 112.60,151.71 114.00,151.32 115.40,150.96 116.79,150.62 118.19,150.31 119.59,150.03 120.99,149.78 122.39,149.55 123.79,149.34 125.19,149.16 126.59,149.01 127.99,148.88 129.39,148.77 130.78,148.69 132.18,148.63 133.58,148.60 134.98,148.58 136.38,148.59 137.78,148.62 139.18,148.67 140.58,148.74 141.98,148.83 143.37,148.95 144.77,149.08 146.17,149.23 147.57,149.40 148.97,149.60 150.37,149.81 151.77,150.04 153.17,150.29 154.57,150.56 155.97,150.84 157.36,151.15 158.76,151.47 160.16,151.81 161.56,152.17 162.96,152.54 164.36,152.94 165.76,153.34 167.16,153.77 168.56,154.21 169.95,154.67 171.35,155.14 172.75,155.63 174.15,156.14 175.55,156.66 176.95,157.20 178.35,157.75 179.75,158.31 181.15,158.89 182.55,159.48 183.94,160.09 185.34,160.71 186.74,161.34 188.14,161.99 189.54,162.65 190.94,163.32 192.34,164.01 193.74,164.71 195.14,165.42 196.53,166.14 197.93,166.87 199.33,167.62 200.73,168.37 202.13,169.14 203.53,169.92 204.93,170.71 206.33,171.50 207.73,172.31 209.13,173.13 210.52,173.96 211.92,174.80 213.32,175.65 214.72,176.51 216.12,177.37 217.52,178.25 218.92,179.13 220.32,180.03 221.72,180.93 223.12,181.84 224.51,182.76 225.91,183.69 227.31,184.62 228.71,185.56 230.11,186.51 231.51,187.47 232.91,188.43 234.31,189.40 235.71,190.38 237.10,191.37 238.50,192.36 239.90,193.36 241.30,194.36 242.70,195.37 244.10,196.39 245.50,197.41 246.90,198.44 248.30,199.48 249.70,200.51 251.09,201.56 252.49,202.61 253.89,203.66 255.29,204.72 256.69,205.79 258.09,206.86 259.49,207.93 260.89,209.01 262.29,210.09 263.68,211.18 265.08,212.27 266.48,213.36 267.88,214.46 269.28,215.56 270.68,216.66 272.08,217.77 273.48,218.88 274.88,219.99 276.28,221.11 277.67,222.22 279.07,223.34 280.47,224.47 281.87,225.59 283.27,226.72 284.67,227.85 286.07,228.98 287.47,230.11 288.87,231.24 290.26,232.37 291.66,233.51 293.06,234.64 294.46,235.78 295.86,236.92 297.26,238.06 298.66,239.20 300.06,240.33 301.46,241.47 302.86,242.61 304.25,243.75 305.65,244.89 307.05,246.02 308.45,247.16 309.85,248.30 311.25,249.43 312.65,250.56 314.05,251.70 315.45,252.83 316.84,253.95 318.24,255.08 319.64,256.20 321.04,257.32 322.44,258.44 323.84,259.56 325.24,260.67 326.64,261.78 328.04,262.88 329.44,263.98 330.83,265.08 332.23,266.17 333.63,267.26 335.03,268.34 336.43,269.42 337.83,270.49 339.23,271.56 340.63,272.62 342.03,273.67 343.43,274.71 344.82,275.75 346.22,276.78 347.62,277.81 349.02,278.82 350.42,279.83 351.82,280.82 353.22,281.81 354.62,282.79 356.02,283.76 357.41,284.72 358.81,285.66 360.21,286.60 361.61,287.52 363.01,288.44 364.41,289.34 365.81,290.23 367.21,291.11 368.61,291.97 370.01,292.82 371.40,293.66 372.80,294.48 374.20,295.29 375.60,296.09 377.00,296.87" fill="none" stroke="#1f9ad8" stroke-width="1.5"/>
<polyline points="42.65,217.84 44.05,215.67 45.45,213.53 46.85,211.43 48.25,209.36 49.64,207.33 51.04,205.33 52.44,203.37 53.84,201.45 55.24,199.56 56.64,197.71 58.04,195.90 59.44,194.13 60.84,192.40 62.24,190.71 63.63,189.06 65.03,187.46 66.43,185.89 67.83,184.37 69.23,182.88 70.63,181.44 72.03,180.04 73.43,178.69 74.83,177.37 76.22,176.09 77.62,174.86 79.02,173.66 80.42,172.51 81.82,171.40 83.22,170.32 84.62,169.29 86.02,168.29 87.42,167.33 88.82,166.41 90.21,165.53 91.61,164.68 93.01,163.87 94.41,163.09 95.81,162.35 97.21,161.65 98.61,160.97 100.01,160.33 101.41,159.73 102.81,159.15 104.20,158.61 105.60,158.10 107.00,157.62 108.40,157.17 109.80,156.74 111.20,156.35 112.60,155.99 114.00,155.65 115.40,155.34 116.79,155.06 118.19,154.81 119.59,154.58 120.99,154.38 122.39,154.20 123.79,154.05 125.19,153.93 126.59,153.83 127.99,153.75 129.39,153.70 130.78,153.67 132.18,153.66 133.58,153.67 134.98,153.71 136.38,153.77 137.78,153.85 139.18,153.95 140.58,154.07 141.98,154.22 143.37,154.38 144.77,154.56 146.17,154.76 147.57,154.98 148.97,155.23 150.37,155.49 151.77,155.76 153.17,156.06 154.57,156.38 155.97,156.71 157.36,157.07 158.76,157.44 160.16,157.82 161.56,158.23 162.96,158.65 164.36,159.09 165.76,159.54 167.16,160.02 168.56,160.50 169.95,161.01 171.35,161.53 172.75,162.06 174.15,162.61 175.55,163.18 176.95,163.76 178.35,164.35 179.75,164.96 181.15,165.58 182.55,166.22 183.94,166.87 185.34,167.53 186.74,168.21 188.14,168.90 189.54,169.60 190.94,170.32 192.34,171.04 193.74,171.78 195.14,172.53 196.53,173.29 197.93,174.07 199.33,174.85 200.73,175.65 202.13,176.46 203.53,177.27 204.93,178.10 206.33,178.94 207.73,179.78 209.13,180.64 210.52,181.51 211.92,182.38 213.32,183.27 214.72,184.16 216.12,185.07 217.52,185.98 218.92,186.90 220.32,187.83 221.72,188.76 223.12,189.71 224.51,190.66 225.91,191.62 227.31,192.59 228.71,193.56 230.11,194.55 231.51,195.54 232.91,196.53 234.31,197.53 235.71,198.54 237.10,199.56 238.50,200.58 239.90,201.61 241.30,202.64 242.70,203.68 244.10,204.72 245.50,205.77 246.90,206.83 248.30,207.89 249.70,208.95 251.09,210.02 252.49,211.09 253.89,212.17 255.29,213.25 256.69,214.34 258.09,215.43 259.49,216.53 260.89,217.62 262.29,218.73 263.68,219.83 265.08,220.94 266.48,222.05 267.88,223.16 269.28,224.28 270.68,225.40 272.08,226.52 273.48,227.64 274.88,228.77 276.28,229.90 277.67,231.02 279.07,232.16 280.47,233.29 281.87,234.42 283.27,235.56 284.67,236.69 286.07,237.83 287.47,238.96 288.87,240.10 290.26,241.24 291.66,242.37 293.06,243.51 294.46,244.65 295.86,245.79 297.26,246.92 298.66,248.06 300.06,249.19 301.46,250.33 302.86,251.46 304.25,252.59 305.65,253.72 307.05,254.85 308.45,255.97 309.85,257.10 311.25,258.22 312.65,259.34 314.05,260.45 315.45,261.57 316.84,262.68 318.24,263.78 319.64,264.88 321.04,265.98 322.44,267.08 323.84,268.17 325.24,269.25 326.64,270.34 328.04,271.41 329.44,272.48 330.83,273.55 332.23,274.61 333.63,275.66 335.03,276.71 336.43,277.75 337.83,278.78 339.23,279.80 340.63,280.82 342.03,281.83 343.43,282.83 344.82,283.82 346.22,284.80 347.62,285.77 349.02,286.73 350.42,287.68 351.82,288.62 353.22,289.55 354.62,290.47 356.02,291.38 357.41,292.27 358.81,293.15 360.21,294.02 361.61,294.87 363.01,295.72 364.41,296.54 365.81,297.36 367.21,298.16 368.61,298.94 370.01,299.71 371.40,300.46 372.80,301.20 374.20,301.92 375.60,302.63 377.00,303.31" fill="none" stroke="#1f9ad8" stroke-width="1.5"/>

<polygon points="42.65,196.73 44.05,193.26 45.45,189.83 46.85,186.45 48.25,183.13 49.64,179.85 51.04,176.62 52.44,173.44 53.84,170.32 55.24,167.24 56.64,164.22 58.04,161.25 59.44,158.34 60.84,155.48 62.24,152.67 63.63,149.92 65.03,147.22 66.43,144.58 67.83,142.00 69.23,139.47 70.63,137.00 72.03,134.59 73.43,132.23 74.83,129.92 76.22,127.67 77.62,125.46 79.02,123.30 80.42,121.18 81.82,119.11 83.22,117.07 84.62,115.07 86.02,113.10 87.42,111.17 88.82,109.27 90.21,107.40 91.61,105.56 93.01,103.75 94.41,101.96 95.81,100.19 97.21,98.44 98.61,96.72 100.01,95.01 101.41,93.32 102.81,91.64 104.20,89.97 105.60,88.32 107.00,86.68 108.40,85.06 109.80,83.46 111.20,81.87 112.60,80.30 114.00,78.76 115.40,77.23 116.79,75.72 118.19,74.23 119.59,72.77 120.99,71.33 122.39,69.91 123.79,68.52 125.19,67.16 126.59,65.82 127.99,64.51 129.39,63.22 130.78,61.97 132.18,60.74 133.58,59.54 134.98,58.37 136.38,57.23 137.78,56.11 139.18,55.01 140.58,53.94 141.98,52.90 143.37,51.87 144.77,50.87 146.17,49.89 147.57,48.94 148.97,48.00 150.37,47.08 151.77,46.18 153.17,45.30 154.57,44.44 155.97,43.59 157.36,42.77 158.76,41.95 160.16,41.16 161.56,40.38 162.96,39.62 164.36,38.88 165.76,38.15 167.16,37.44 168.56,36.75 169.95,36.07 171.35,35.41 172.75,34.76 174.15,34.13 175.55,33.52 176.95,32.92 178.35,32.34 179.75,31.78 181.15,31.23 182.55,30.69 183.94,30.17 185.34,29.67 186.74,29.18 188.14,28.71 189.54,28.25 190.94,27.80 192.34,27.37 193.74,26.96 195.14,26.56 196.53,26.17 197.93,25.80 199.33,25.45 200.73,25.11 202.13,24.78 203.53,24.46 204.93,24.17 206.33,23.88 207.73,23.61 209.13,23.35 210.52,23.10 211.92,22.87 213.32,22.66 214.72,22.45 216.12,22.26 217.52,22.08 218.92,21.92 220.32,21.76 221.72,21.63 223.12,21.50 224.51,21.38 225.91,21.28 227.31,21.19 228.71,21.12 230.11,21.05 231.51,21.00 232.91,20.96 234.31,20.93 235.71,20.92 237.10,20.91 238.50,20.92 239.90,20.94 241.30,20.97 242.70,21.01 244.10,21.07 245.50,21.13 246.90,21.21 248.30,21.29 249.70,21.39 251.09,21.50 252.49,21.62 253.89,21.75 255.29,21.89 256.69,22.04 258.09,22.20 259.49,22.37 260.89,22.55 262.29,22.75 263.68,22.95 265.08,23.16 266.48,23.38 267.88,23.61 269.28,23.85 270.68,24.10 272.08,24.36 273.48,24.63 274.88,24.91 276.28,25.20 277.67,25.49 279.07,25.80 280.47,26.11 281.87,26.44 283.27,26.77 284.67,27.11 286.07,27.46 287.47,27.81 288.87,28.18 290.26,28.55 291.66,28.93 293.06,29.32 294.46,29.72 295.86,30.12 297.26,30.54 298.66,30.96 300.06,31.38 301.46,31.82 302.86,32.26 304.25,32.71 305.65,33.17 307.05,33.63 308.45,34.10 309.85,34.58 311.25,35.06 312.65,35.55 314.05,36.05 315.45,36.56 316.84,37.07 318.24,37.58 319.64,38.11 321.04,38.63 322.44,39.17 323.84,39.71 325.24,40.25 326.64,40.81 328.04,41.36 329.44,41.93 330.83,42.49 332.23,43.07 333.63,43.65 335.03,44.23 336.43,44.82 337.83,45.41 339.23,46.01 340.63,46.61 342.03,47.22 343.43,47.83 344.82,48.45 346.22,49.07 347.62,49.70 349.02,50.33 350.42,50.96 351.82,51.60 353.22,52.24 354.62,52.88 356.02,53.53 357.41,54.18 358.81,54.84 360.21,55.50 361.61,56.16 363.01,56.82 364.41,57.49 365.81,58.16 367.21,58.84 368.61,59.51 370.01,60.19 371.40,60.88 372.80,61.56 374.20,62.25 375.60,62.94 377.00,63.63 377.00,76.51 375.60,75.78 374.20,75.06 372.80,74.34 371.40,73.63 370.01,72.91 368.61,72.20 367.21,71.49 365.81,70.78 364.41,70.08 363.01,69.38 361.61,68.68 360.21,67.98 358.81,67.29 357.41,66.60 356.02,65.92 354.62,65.23 353.22,64.56 351.82,63.88 350.42,63.21 349.02,62.54 347.62,61.88 346.22,61.22 344.82,60.56 343.43,59.91 342.03,59.26 340.63,58.62 339.23,57.98 337.83,57.35 336.43,56.72 335.03,56.10 333.63,55.48 332.23,54.86 330.83,54.25 329.44,53.65 328.04,53.05 326.64,52.45 325.24,51.87 323.84,51.28 322.44,50.71 321.04,50.13 319.64,49.57 318.24,49.01 316.84,48.45 315.45,47.91 314.05,47.36 312.65,46.83 311.25,46.30 309.85,45.78 308.45,45.26 307.05,44.75 305.65,44.25 304.25,43.75 302.86,43.26 301.46,42.78 300.06,42.31 298.66,41.84 297.26,41.38 295.86,40.93 294.46,40.48 293.06,40.04 291.66,39.62 290.26,39.19 288.87,38.78 287.47,38.37 286.07,37.97 284.67,37.58 283.27,37.20 281.87,36.83 280.47,36.46 279.07,36.11 277.67,35.76 276.28,35.42 274.88,35.09 273.48,34.77 272.08,34.46 270.68,34.15 269.28,33.86 267.88,33.58 266.48,33.30 265.08,33.04 263.68,32.78 262.29,32.53 260.89,32.30 259.49,32.07 258.09,31.85 256.69,31.65 255.29,31.45 253.89,31.26 252.49,31.09 251.09,30.92 249.70,30.77 248.30,30.63 246.90,30.49 245.50,30.37 244.10,30.26 242.70,30.16 241.30,30.07 239.90,29.99 238.50,29.92 237.10,29.87 235.71,29.83 234.31,29.79 232.91,29.77 231.51,29.76 230.11,29.77 228.71,29.78 227.31,29.81 225.91,29.85 224.51,29.90 223.12,29.97 221.72,30.04 220.32,30.13 218.92,30.24 217.52,30.35 216.12,30.48 214.72,30.62 213.32,30.77 211.92,30.94 210.52,31.12 209.13,31.31 207.73,31.52 206.33,31.74 204.93,31.98 203.53,32.22 202.13,32.49 200.73,32.76 199.33,33.05 197.93,33.36 196.53,33.67 195.14,34.01 193.74,34.35 192.34,34.71 190.94,35.09 189.54,35.48 188.14,35.89 186.74,36.31 185.34,36.74 183.94,37.19 182.55,37.66 181.15,38.14 179.75,38.64 178.35,39.15 176.95,39.68 175.55,40.22 174.15,40.78 172.75,41.35 171.35,41.94 169.95,42.55 168.56,43.17 167.16,43.81 165.76,44.47 164.36,45.14 162.96,45.83 161.56,46.53 160.16,47.25 158.76,47.99 157.36,48.75 155.97,49.52 154.57,50.31 153.17,51.12 151.77,51.94 150.37,52.79 148.97,53.65 147.57,54.53 146.17,55.43 144.77,56.36 143.37,57.30 141.98,58.27 140.58,59.26 139.18,60.27 137.78,61.31 136.38,62.37 134.98,63.46 133.58,64.58 132.18,65.72 130.78,66.89 129.39,68.09 127.99,69.31 126.59,70.57 125.19,71.85 123.79,73.16 122.39,74.50 120.99,75.86 119.59,77.24 118.19,78.65 116.79,80.08 115.40,81.53 114.00,83.00 112.60,84.50 111.20,86.01 109.80,87.54 108.40,89.09 107.00,90.65 105.60,92.23 104.20,93.83 102.81,95.44 101.41,97.06 100.01,98.70 98.61,100.36 97.21,102.03 95.81,103.72 94.41,105.43 93.01,107.16 91.61,108.92 90.21,110.71 88.82,112.53 87.42,114.37 86.02,116.25 84.62,118.16 83.22,120.11 81.82,122.09 80.42,124.11 79.02,126.17 77.62,128.28 76.22,130.44 74.83,132.64 73.43,134.89 72.03,137.20 70.63,139.56 69.23,141.97 67.83,144.45 66.43,146.98 65.03,149.57 63.63,152.21 62.24,154.91 60.84,157.67 59.44,160.48 58.04,163.35 56.64,166.26 55.24,169.24 53.84,172.26 52.44,175.34 51.04,178.46 49.64,181.64 48.25,184.87 46.85,188.15 45.45,191.48 44.05,194.86 42.65,198.28" fill="#f60a0a" fill-opacity="0.2" stroke="none"/>
<polyline points="42.65,196.73 44.05,193.26 45.45,189.83 46.85,186.45 48.25,183.13 49.64,179.85 51.04,176.62 52.44,173.44 53.84,170.32 55.24,167.24 56.64,164.22 58.04,161.25 59.44,158.34 60.84,155.48 62.24,152.67 63.63,149.92 65.03,147.22 66.43,144.58 67.83,142.00 69.23,139.47 70.63,137.00 72.03,134.59 73.43,132.23 74.83,129.92 76.22,127.67 77.62,125.46 79.02,123.30 80.42,121.18 81.82,119.11 83.22,117.07 84.62,115.07 86.02,113.10 87.42,111.17 88.82,109.27 90.21,107.40 91.61,105.56 93.01,103.75 94.41,101.96 95.81,100.19 97.21,98.44 98.61,96.72 100.01,95.01 101.41,93.32 102.81,91.64 104.20,89.97 105.60,88.32 107.00,86.68 108.40,85.06 109.80,83.46 111.20,81.87 112.60,80.30 114.00,78.76 115.40,77.23 116.79,75.72 118.19,74.23 119.59,72.77 120.99,71.33 122.39,69.91 123.79,68.52 125.19,67.16 126.59,65.82 127.99,64.51 129.39,63.22 130.78,61.97 132.18,60.74 133.58,59.54 134.98,58.37 136.38,57.23 137.78,56.11 139.18,55.01 140.58,53.94 141.98,52.90 143.37,51.87 144.77,50.87 146.17,49.89 147.57,48.94 148.97,48.00 150.37,47.08 151.77,46.18 153.17,45.30 154.57,44.44 155.97,43.59 157.36,42.77 158.76,41.95 160.16,41.16 161.56,40.38 162.96,39.62 164.36,38.88 165.76,38.15 167.16,37.44 168.56,36.75 169.95,36.07 171.35,35.41 172.75,34.76 174.15,34.13 175.55,33.52 176.95,32.92 178.35,32.34 179.75,31.78 181.15,31.23 182.55,30.69 183.94,30.17 185.34,29.67 186.74,29.18 188.14,28.71 189.54,28.25 190.94,27.80 192.34,27.37 193.74,26.96 195.14,26.56 196.53,26.17 197.93,25.80 199.33,25.45 200.73,25.11 202.13,24.78 203.53,24.46 204.93,24.17 206.33,23.88 207.73,23.61 209.13,23.35 210.52,23.10 211.92,22.87 213.32,22.66 214.72,22.45 216.12,22.26 217.52,22.08 218.92,21.92 220.32,21.76 221.72,21.63 223.12,21.50 224.51,21.38 225.91,21.28 227.31,21.19 228.71,21.12 230.11,21.05 231.51,21.00 232.91,20.96 234.31,20.93 235.71,20.92 237.10,20.91 238.50,20.92 239.90,20.94 241.30,20.97 242.70,21.01 244.10,21.07 245.50,21.13 246.90,21.21 248.30,21.29 249.70,21.39 251.09,21.50 252.49,21.62 253.89,21.75 255.29,21.89 256.69,22.04 258.09,22.20 259.49,22.37 260.89,22.55 262.29,22.75 263.68,22.95 265.08,23.16 266.48,23.38 267.88,23.61 269.28,23.85 270.68,24.10 272.08,24.36 273.48,24.63 274.88,24.91 276.28,25.20 277.67,25.49 279.07,25.80 280.47,26.11 281.87,26.44 283.27,26.77 284.67,27.11 286.07,27.46 287.47,27.81 288.87,28.18 290.26,28.55 291.66,28.93 293.06,29.32 294.46,29.72 295.86,30.12 297.26,30.54 298.66,30.96 300.06,31.38 301.46,31.82 302.86,32.26 304.25,32.71 305.65,33.17 307.05,33.63 308.45,34.10 309.85,34.58 311.25,35.06 312.65,35.55 314.05,36.05 315.45,36.56 316.84,37.07 318.24,37.58 319.64,38.11 321.04,38.63 322.44,39.17 323.84,39.71 325.24,40.25 326.64,40.81 328.04,41.36 329.44,41.93 330.83,42.49 332.23,43.07 333.63,43.65 335.03,44.23 336.43,44.82 337.83,45.41 339.23,46.01 340.63,46.61 342.03,47.22 343.43,47.83 344.82,48.45 346.22,49.07 347.62,49.70 349.02,50.33 350.42,50.96 351.82,51.60 353.22,52.24 354.62,52.88 356.02,53.53 357.41,54.18 358.81,54.84 360.21,55.50 361.61,56.16 363.01,56.82 364.41,57.49 365.81,58.16 367.21,58.84 368.61,59.51 370.01,60.19 371.40,60.88 372.80,61.56 374.20,62.25 375.60,62.94 377.00,63.63" fill="none" stroke="#f60a0a" stroke-width="1.6"/>
<polyline points="42.65,198.28 44.05,194.86 45.45,191.48 46.85,188.15 48.25,184.87 49.64,181.64 51.04,178.46 52.44,175.34 53.84,172.26 55.24,169.24 56.64,166.26 58.04,163.35 59.44,160.48 60.84,157.67 62.24,154.91 63.63,152.21 65.03,149.57 66.43,146.98 67.83,144.45 69.23,141.97 70.63,139.56 72.03,137.20 73.43,134.89 74.83,132.64 76.22,130.44 77.62,128.28 79.02,126.17 80.42,124.11 81.82,122.09 83.22,120.11 84.62,118.16 86.02,116.25 87.42,114.37 88.82,112.53 90.21,110.71 91.61,108.92 93.01,107.16 94.41,105.43 95.81,103.72 97.21,102.03 98.61,100.36 100.01,98.70 101.41,97.06 102.81,95.44 104.20,93.83 105.60,92.23 107.00,90.65 108.40,89.09 109.80,87.54 111.20,86.01 112.60,84.50 114.00,83.00 115.40,81.53 116.79,80.08 118.19,78.65 119.59,77.24 120.99,75.86 122.39,74.50 123.79,73.16 125.19,71.85 126.59,70.57 127.99,69.31 129.39,68.09 130.78,66.89 132.18,65.72 133.58,64.58 134.98,63.46 136.38,62.37 137.78,61.31 139.18,60.27 140.58,59.26 141.98,58.27 143.37,57.30 144.77,56.36 146.17,55.43 147.57,54.53 148.97,53.65 150.37,52.79 151.77,51.94 153.17,51.12 154.57,50.31 155.97,49.52 157.36,48.75 158.76,47.99 160.16,47.25 161.56,46.53 162.96,45.83 164.36,45.14 165.76,44.47 167.16,43.81 168.56,43.17 169.95,42.55 171.35,41.94 172.75,41.35 174.15,40.78 175.55,40.22 176.95,39.68 178.35,39.15 179.75,38.64 181.15,38.14 182.55,37.66 183.94,37.19 185.34,36.74 186.74,36.31 188.14,35.89 189.54,35.48 190.94,35.09 192.34,34.71 193.74,34.35 195.14,34.01 196.53,33.67 197.93,33.36 199.33,33.05 200.73,32.76 202.13,32.49 203.53,32.22 204.93,31.98 206.33,31.74 207.73,31.52 209.13,31.31 210.52,31.12 211.92,30.94 213.32,30.77 214.72,30.62 216.12,30.48 217.52,30.35 218.92,30.24 220.32,30.13 221.72,30.04 223.12,29.97 224.51,29.90 225.91,29.85 227.31,29.81 228.71,29.78 230.11,29.77 231.51,29.76 232.91,29.77 234.31,29.79 235.71,29.83 237.10,29.87 238.50,29.92 239.90,29.99 241.30,30.07 242.70,30.16 244.10,30.26 245.50,30.37 246.90,30.49 248.30,30.63 249.70,30.77 251.09,30.92 252.49,31.09 253.89,31.26 255.29,31.45 256.69,31.65 258.09,31.85 259.49,32.07 260.89,32.30 262.29,32.53 263.68,32.78 265.08,33.04 266.48,33.30 267.88,33.58 269.28,33.86 270.68,34.15 272.08,34.46 273.48,34.77 274.88,35.09 276.28,35.42 277.67,35.76 279.07,36.11 280.47,36.46 281.87,36.83 283.27,37.20 284.67,37.58 286.07,37.97 287.47,38.37 288.87,38.78 290.26,39.19 291.66,39.62 293.06,40.04 294.46,40.48 295.86,40.93 297.26,41.38 298.66,41.84 300.06,42.31 301.46,42.78 302.86,43.26 304.25,43.75 305.65,44.25 307.05,44.75 308.45,45.26 309.85,45.78 311.25,46.30 312.65,46.83 314.05,47.36 315.45,47.91 316.84,48.45 318.24,49.01 319.64,49.57 321.04,50.13 322.44,50.71 323.84,51.28 325.24,51.87 326.64,52.45 328.04,53.05 329.44,53.65 330.83,54.25 332.23,54.86 333.63,55.48 335.03,56.10 336.43,56.72 337.83,57.35 339.23,57.98 340.63,58.62 342.03,59.26 343.43,59.91 344.82,60.56 346.22,61.22 347.62,61.88 349.02,62.54 350.42,63.21 351.82,63.88 353.22,64.56 354.62,65.23 356.02,65.92 357.41,66.60 358.81,67.29 360.21,67.98 361.61,68.68 363.01,69.38 364.41,70.08 365.81,70.78 367.21,71.49 368.61,72.20 370.01,72.91 371.40,73.63 372.80,74.34 374.20,75.06 375.60,75.78 377.00,76.51" fill="none" stroke="#f60a0a" stroke-width="1.6"/>

</g>
<g stroke="#7e7e7e" stroke-width="1.3"><path d="M42.65,0 H377.00 V334.65 H42.65 Z" fill="none"/><line x1="50.08" y1="334.65" x2="50.08" y2="332.84999999999997"/><line x1="50.08" y1="0" x2="50.08" y2="1.8"/><line x1="64.94" y1="334.65" x2="64.94" y2="332.84999999999997"/><line x1="64.94" y1="0" x2="64.94" y2="1.8"/><line x1="79.80" y1="334.65" x2="79.80" y2="331.65"/><line x1="79.80" y1="0" x2="79.80" y2="3"/><line x1="94.66" y1="334.65" x2="94.66" y2="332.84999999999997"/><line x1="94.66" y1="0" x2="94.66" y2="1.8"/><line x1="109.52" y1="334.65" x2="109.52" y2="332.84999999999997"/><line x1="109.52" y1="0" x2="109.52" y2="1.8"/><line x1="124.38" y1="334.65" x2="124.38" y2="332.84999999999997"/><line x1="124.38" y1="0" x2="124.38" y2="1.8"/><line x1="139.24" y1="334.65" x2="139.24" y2="332.84999999999997"/><line x1="139.24" y1="0" x2="139.24" y2="1.8"/><line x1="154.10" y1="334.65" x2="154.10" y2="331.65"/><line x1="154.10" y1="0" x2="154.10" y2="3"/><line x1="168.96" y1="334.65" x2="168.96" y2="332.84999999999997"/><line x1="168.96" y1="0" x2="168.96" y2="1.8"/><line x1="183.82" y1="334.65" x2="183.82" y2="332.84999999999997"/><line x1="183.82" y1="0" x2="183.82" y2="1.8"/><line x1="198.68" y1="334.65" x2="198.68" y2="332.84999999999997"/><line x1="198.68" y1="0" x2="198.68" y2="1.8"/><line x1="213.54" y1="334.65" x2="213.54" y2="332.84999999999997"/><line x1="213.54" y1="0" x2="213.54" y2="1.8"/><line x1="228.40" y1="334.65" x2="228.40" y2="331.65"/><line x1="228.40" y1="0" x2="228.40" y2="3"/><line x1="243.26" y1="334.65" x2="243.26" y2="332.84999999999997"/><line x1="243.26" y1="0" x2="243.26" y2="1.8"/><line x1="258.12" y1="334.65" x2="258.12" y2="332.84999999999997"/><line x1="258.12" y1="0" x2="258.12" y2="1.8"/><line x1="272.98" y1="334.65" x2="272.98" y2="332.84999999999997"/><line x1="272.98" y1="0" x2="272.98" y2="1.8"/><line x1="287.84" y1="334.65" x2="287.84" y2="332.84999999999997"/><line x1="287.84" y1="0" x2="287.84" y2="1.8"/><line x1="302.70" y1="334.65" x2="302.70" y2="331.65"/><line x1="302.70" y1="0" x2="302.70" y2="3"/><line x1="317.56" y1="334.65" x2="317.56" y2="332.84999999999997"/><line x1="317.56" y1="0" x2="317.56" y2="1.8"/><line x1="332.42" y1="334.65" x2="332.42" y2="332.84999999999997"/><line x1="332.42" y1="0" x2="332.42" y2="1.8"/><line x1="347.28" y1="334.65" x2="347.28" y2="332.84999999999997"/><line x1="347.28" y1="0" x2="347.28" y2="1.8"/><line x1="362.14" y1="334.65" x2="362.14" y2="332.84999999999997"/><line x1="362.14" y1="0" x2="362.14" y2="1.8"/><line x1="377.00" y1="334.65" x2="377.00" y2="331.65"/><line x1="377.00" y1="0" x2="377.00" y2="3"/><line x1="42.65" y1="334.65" x2="45.65" y2="334.65"/><line x1="377.00" y1="334.65" x2="374.00" y2="334.65"/><line x1="42.65" y1="323.49" x2="44.45" y2="323.49"/><line x1="377.00" y1="323.49" x2="375.20" y2="323.49"/><line x1="42.65" y1="312.33" x2="44.45" y2="312.33"/><line x1="377.00" y1="312.33" x2="375.20" y2="312.33"/><line x1="42.65" y1="301.18" x2="44.45" y2="301.18"/><line x1="377.00" y1="301.18" x2="375.20" y2="301.18"/><line x1="42.65" y1="290.02" x2="45.65" y2="290.02"/><line x1="377.00" y1="290.02" x2="374.00" y2="290.02"/><line x1="42.65" y1="278.86" x2="44.45" y2="278.86"/><line x1="377.00" y1="278.86" x2="375.20" y2="278.86"/><line x1="42.65" y1="267.70" x2="44.45" y2="267.70"/><line x1="377.00" y1="267.70" x2="375.20" y2="267.70"/><line x1="42.65" y1="256.54" x2="44.45" y2="256.54"/><line x1="377.00" y1="256.54" x2="375.20" y2="256.54"/><line x1="42.65" y1="245.39" x2="45.65" y2="245.39"/><line x1="377.00" y1="245.39" x2="374.00" y2="245.39"/><line x1="42.65" y1="234.23" x2="44.45" y2="234.23"/><line x1="377.00" y1="234.23" x2="375.20" y2="234.23"/><line x1="42.65" y1="223.07" x2="44.45" y2="223.07"/><line x1="377.00" y1="223.07" x2="375.20" y2="223.07"/><line x1="42.65" y1="211.91" x2="44.45" y2="211.91"/><line x1="377.00" y1="211.91" x2="375.20" y2="211.91"/><line x1="42.65" y1="200.75" x2="45.65" y2="200.75"/><line x1="377.00" y1="200.75" x2="374.00" y2="200.75"/><line x1="42.65" y1="189.60" x2="44.45" y2="189.60"/><line x1="377.00" y1="189.60" x2="375.20" y2="189.60"/><line x1="42.65" y1="178.44" x2="44.45" y2="178.44"/><line x1="377.00" y1="178.44" x2="375.20" y2="178.44"/><line x1="42.65" y1="167.28" x2="44.45" y2="167.28"/><line x1="377.00" y1="167.28" x2="375.20" y2="167.28"/><line x1="42.65" y1="156.12" x2="45.65" y2="156.12"/><line x1="377.00" y1="156.12" x2="374.00" y2="156.12"/><line x1="42.65" y1="144.96" x2="44.45" y2="144.96"/><line x1="377.00" y1="144.96" x2="375.20" y2="144.96"/><line x1="42.65" y1="133.81" x2="44.45" y2="133.81"/><line x1="377.00" y1="133.81" x2="375.20" y2="133.81"/><line x1="42.65" y1="122.65" x2="44.45" y2="122.65"/><line x1="377.00" y1="122.65" x2="375.20" y2="122.65"/><line x1="42.65" y1="111.49" x2="45.65" y2="111.49"/><line x1="377.00" y1="111.49" x2="374.00" y2="111.49"/><line x1="42.65" y1="100.33" x2="44.45" y2="100.33"/><line x1="377.00" y1="100.33" x2="375.20" y2="100.33"/><line x1="42.65" y1="89.17" x2="44.45" y2="89.17"/><line x1="377.00" y1="89.17" x2="375.20" y2="89.17"/><line x1="42.65" y1="78.02" x2="44.45" y2="78.02"/><line x1="377.00" y1="78.02" x2="375.20" y2="78.02"/><line x1="42.65" y1="66.86" x2="45.65" y2="66.86"/><line x1="377.00" y1="66.86" x2="374.00" y2="66.86"/><line x1="42.65" y1="55.70" x2="44.45" y2="55.70"/><line x1="377.00" y1="55.70" x2="375.20" y2="55.70"/><line x1="42.65" y1="44.54" x2="44.45" y2="44.54"/><line x1="377.00" y1="44.54" x2="375.20" y2="44.54"/><line x1="42.65" y1="33.38" x2="44.45" y2="33.38"/><line x1="377.00" y1="33.38" x2="375.20" y2="33.38"/><line x1="42.65" y1="22.23" x2="45.65" y2="22.23"/><line x1="377.00" y1="22.23" x2="374.00" y2="22.23"/><line x1="42.65" y1="11.07" x2="44.45" y2="11.07"/><line x1="377.00" y1="11.07" x2="375.20" y2="11.07"/></g>
<line x1="242" x2="268.5" y1="27.9" y2="27.9" stroke="#505050" stroke-width="1.6" stroke-dasharray="8 5.5"/>
<line x1="241.75" x2="267.5" y1="48.2" y2="48.2" stroke="#505050" stroke-width="1.2" stroke-dasharray="2 1.3"/>
<line x1="242" x2="268.5" y1="69.0" y2="69.0" stroke="#6aaa1e" stroke-width="1.5"/>
<line x1="242" x2="268.5" y1="89.5" y2="89.5" stroke="#1f9ad8" stroke-width="1.5"/>
<line x1="242" x2="268.5" y1="110.0" y2="110.0" stroke="#f60a0a" stroke-width="1.5"/>
<g font-family="Liberation Serif, serif" fill="#000" stroke="#000" stroke-width="0.25"><text x="40.90" y="339.45" font-size="15.3" text-anchor="end" textLength="6.7" lengthAdjust="spacingAndGlyphs">0</text><text x="40.90" y="294.82" font-size="15.3" text-anchor="end" textLength="13.4" lengthAdjust="spacingAndGlyphs">20</text><text x="40.90" y="250.19" font-size="15.3" text-anchor="end" textLength="13.4" lengthAdjust="spacingAndGlyphs">40</text><text x="40.90" y="205.55" font-size="15.3" text-anchor="end" textLength="13.4" lengthAdjust="spacingAndGlyphs">60</text><text x="40.90" y="160.92" font-size="15.3" text-anchor="end" textLength="13.4" lengthAdjust="spacingAndGlyphs">80</text><text x="40.90" y="116.29" font-size="15.3" text-anchor="end" textLength="20.1" lengthAdjust="spacingAndGlyphs">100</text><text x="40.90" y="71.66" font-size="15.3" text-anchor="end" textLength="20.1" lengthAdjust="spacingAndGlyphs">120</text><text x="40.90" y="27.03" font-size="15.3" text-anchor="end" textLength="20.1" lengthAdjust="spacingAndGlyphs">140</text><text x="79.80" y="348.70" font-size="14.8" text-anchor="middle" textLength="6.4" lengthAdjust="spacingAndGlyphs">1</text><text x="154.10" y="348.70" font-size="14.8" text-anchor="middle" textLength="6.4" lengthAdjust="spacingAndGlyphs">2</text><text x="228.40" y="348.70" font-size="14.8" text-anchor="middle" textLength="6.4" lengthAdjust="spacingAndGlyphs">3</text><text x="302.70" y="348.70" font-size="14.8" text-anchor="middle" textLength="6.4" lengthAdjust="spacingAndGlyphs">4</text><text x="377.00" y="348.70" font-size="14.8" text-anchor="middle" textLength="6.4" lengthAdjust="spacingAndGlyphs">5</text><text x="273.80" y="32.30" font-size="14.1" text-anchor="start" textLength="95.4" lengthAdjust="spacingAndGlyphs">Ann: Perturbative</text><text x="273.80" y="52.60" font-size="14.1" text-anchor="start" textLength="43.9" lengthAdjust="spacingAndGlyphs">Ann: GE</text><text x="273.80" y="73.40" font-size="14.1" text-anchor="start" textLength="54.1" lengthAdjust="spacingAndGlyphs">Ann: GHE</text><text x="273.80" y="93.90" font-size="14.1" text-anchor="start" textLength="78.8" lengthAdjust="spacingAndGlyphs">Ann + BSF: GE</text><text x="273.80" y="114.40" font-size="14.1" text-anchor="start" textLength="89.0" lengthAdjust="spacingAndGlyphs">Ann + BSF: GHE</text><text x="284.50" y="16.30" font-size="13" text-anchor="start" textLength="8.4" lengthAdjust="spacingAndGlyphs" font-weight="bold" font-style="italic">α</text><text x="292.90" y="17.80" font-size="9.2" text-anchor="start" textLength="5.0" lengthAdjust="spacingAndGlyphs" font-weight="bold" font-style="italic">h</text><text x="300.60" y="17.60" font-size="12.6" text-anchor="start" textLength="7.6" lengthAdjust="spacingAndGlyphs" font-weight="bold">=</text><text x="311.30" y="16.30" font-size="12.6" text-anchor="start" textLength="15.7" lengthAdjust="spacingAndGlyphs" font-weight="bold">0.1</text><text x="182.00" y="368.80" font-size="15.3" text-anchor="start" textLength="11.3" lengthAdjust="spacingAndGlyphs" font-style="italic">m</text><text x="193.00" y="371.00" font-size="11.4" text-anchor="start" textLength="6.7" lengthAdjust="spacingAndGlyphs" font-style="italic">χ</text><text x="206.00" y="368.80" font-size="15.3" text-anchor="start" textLength="33.3" lengthAdjust="spacingAndGlyphs">[TeV]</text><g transform="translate(12.4,0) rotate(-90)"><text x="-197.40" y="0.00" font-size="15.3" text-anchor="start" textLength="20.4" lengthAdjust="spacingAndGlyphs">Δm</text><text x="-170.30" y="0.00" font-size="15.3" text-anchor="start" textLength="32.9" lengthAdjust="spacingAndGlyphs">[GeV]</text></g></g>
</svg>
</body></html>
